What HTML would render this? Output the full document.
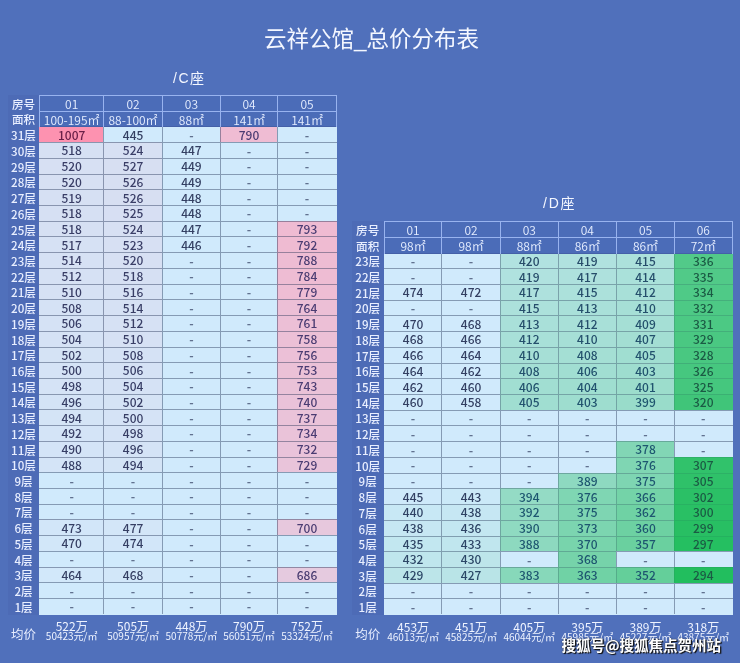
<!DOCTYPE html>
<html><head><meta charset="utf-8"><style>
*{margin:0;padding:0;box-sizing:border-box}
html,body{width:740px;height:663px;overflow:hidden;background:#5070bb}
body{position:relative;font-family:"Noto Sans CJK SC",sans-serif}
.r{position:absolute}
.t{position:absolute;display:flex;align-items:center;justify-content:center;white-space:nowrap;line-height:1}
.num{font-size:12px;font-weight:500}
.dash{font-size:12px;font-weight:700;opacity:0.7}
.hd{font-size:12px;color:#e6eeff;font-weight:350;padding-top:1px}
.lab{font-size:11.6px;color:#e8eeff;padding-top:2.4px;font-weight:500}
.avg{font-size:12.5px;font-weight:400}
.av1{font-size:12px;color:#eef3ff;align-items:flex-end}
.av2{font-size:10px;color:#eef3ff;align-items:flex-start}
.title{position:absolute;left:0;width:740px;text-align:center;color:#f4f7ff;font-family:"Liberation Sans","Noto Sans CJK SC",sans-serif}
.wm{position:absolute;font-weight:bold;color:#fff;font-size:14.5px;text-shadow:1.2px 1.2px 0.8px #111,0 0 1.5px #333}
</style></head><body>
<div id="w" style="position:absolute;left:0;top:0;width:740px;height:663px;background:#5070bb;filter:blur(0.35px)">
<div class="title" style="top:20.5px;font-size:22.5px;left:264px;width:auto">云祥公馆_总价分布表</div>
<div class="title" style="top:66.8px;font-size:14px;left:173px;width:auto;letter-spacing:1.5px">/C座</div>
<div class="title" style="top:192px;font-size:14px;left:543px;width:auto;letter-spacing:1.8px">/D座</div>
<div class="r" style="left:8.00px;top:95.00px;width:31.00px;height:520.00px;background:#4d6bb6;"></div><div class="r" style="left:39.00px;top:95.00px;width:298.00px;height:32.00px;background:#4b6cb8;"></div><div class="r" style="left:39.00px;top:127.00px;width:64.00px;height:15.00px;background:#fd92b0;"></div><div class="t num" style="left:39.65px;top:126.84px;width:64.10px;height:15.72px;color:#6a2048">1007</div><div class="r" style="left:103.00px;top:127.00px;width:59.00px;height:15.00px;background:#d0eafc;"></div><div class="t num" style="left:103.75px;top:126.84px;width:58.65px;height:15.72px;color:#333f62">445</div><div class="r" style="left:162.00px;top:127.00px;width:58.00px;height:15.00px;background:#d0eafc;"></div><div class="t dash" style="left:162.40px;top:126.94px;width:58.00px;height:15.72px;color:#333f62">-</div><div class="r" style="left:220.00px;top:127.00px;width:57.00px;height:15.00px;background:#efbcd3;"></div><div class="t num" style="left:220.40px;top:126.84px;width:57.25px;height:15.72px;color:#4a3c72">790</div><div class="r" style="left:277.00px;top:127.00px;width:60.00px;height:15.00px;background:#d0eafc;"></div><div class="t dash" style="left:277.65px;top:126.94px;width:58.75px;height:15.72px;color:#333f62">-</div><div class="t lab" style="left:3.50px;top:126.94px;width:40.00px;height:15.72px;">31层</div><div class="r" style="left:39.00px;top:142.00px;width:64.00px;height:16.00px;background:#d6e0f3;"></div><div class="t num" style="left:39.65px;top:142.56px;width:64.10px;height:15.72px;color:#393e66">518</div><div class="r" style="left:103.00px;top:142.00px;width:59.00px;height:16.00px;background:#d7e0f3;"></div><div class="t num" style="left:103.75px;top:142.56px;width:58.65px;height:15.72px;color:#3a3e67">524</div><div class="r" style="left:162.00px;top:142.00px;width:58.00px;height:16.00px;background:#d0eafc;"></div><div class="t num" style="left:162.40px;top:142.56px;width:58.00px;height:15.72px;color:#333f62">447</div><div class="r" style="left:220.00px;top:142.00px;width:57.00px;height:16.00px;background:#d0eafc;"></div><div class="t dash" style="left:220.40px;top:142.66px;width:57.25px;height:15.72px;color:#333f62">-</div><div class="r" style="left:277.00px;top:142.00px;width:60.00px;height:16.00px;background:#d0eafc;"></div><div class="t dash" style="left:277.65px;top:142.66px;width:58.75px;height:15.72px;color:#333f62">-</div><div class="t lab" style="left:3.50px;top:142.66px;width:40.00px;height:15.72px;">30层</div><div class="r" style="left:39.00px;top:158.00px;width:64.00px;height:16.00px;background:#d7e0f3;"></div><div class="t num" style="left:39.65px;top:158.28px;width:64.10px;height:15.72px;color:#3a3e67">520</div><div class="r" style="left:103.00px;top:158.00px;width:59.00px;height:16.00px;background:#d7dff2;"></div><div class="t num" style="left:103.75px;top:158.28px;width:58.65px;height:15.72px;color:#3a3e67">527</div><div class="r" style="left:162.00px;top:158.00px;width:58.00px;height:16.00px;background:#d0eafc;"></div><div class="t num" style="left:162.40px;top:158.28px;width:58.00px;height:15.72px;color:#333f62">449</div><div class="r" style="left:220.00px;top:158.00px;width:57.00px;height:16.00px;background:#d0eafc;"></div><div class="t dash" style="left:220.40px;top:158.38px;width:57.25px;height:15.72px;color:#333f62">-</div><div class="r" style="left:277.00px;top:158.00px;width:60.00px;height:16.00px;background:#d0eafc;"></div><div class="t dash" style="left:277.65px;top:158.38px;width:58.75px;height:15.72px;color:#333f62">-</div><div class="t lab" style="left:3.50px;top:158.38px;width:40.00px;height:15.72px;">29层</div><div class="r" style="left:39.00px;top:174.00px;width:64.00px;height:15.00px;background:#d7e0f3;"></div><div class="t num" style="left:39.65px;top:174.00px;width:64.10px;height:15.72px;color:#3a3e67">520</div><div class="r" style="left:103.00px;top:174.00px;width:59.00px;height:15.00px;background:#d7dff2;"></div><div class="t num" style="left:103.75px;top:174.00px;width:58.65px;height:15.72px;color:#3a3e67">526</div><div class="r" style="left:162.00px;top:174.00px;width:58.00px;height:15.00px;background:#d0eafc;"></div><div class="t num" style="left:162.40px;top:174.00px;width:58.00px;height:15.72px;color:#333f62">449</div><div class="r" style="left:220.00px;top:174.00px;width:57.00px;height:15.00px;background:#d0eafc;"></div><div class="t dash" style="left:220.40px;top:174.10px;width:57.25px;height:15.72px;color:#333f62">-</div><div class="r" style="left:277.00px;top:174.00px;width:60.00px;height:15.00px;background:#d0eafc;"></div><div class="t dash" style="left:277.65px;top:174.10px;width:58.75px;height:15.72px;color:#333f62">-</div><div class="t lab" style="left:3.50px;top:174.10px;width:40.00px;height:15.72px;">28层</div><div class="r" style="left:39.00px;top:189.00px;width:64.00px;height:16.00px;background:#d6e0f3;"></div><div class="t num" style="left:39.65px;top:189.72px;width:64.10px;height:15.72px;color:#3a3e67">519</div><div class="r" style="left:103.00px;top:189.00px;width:59.00px;height:16.00px;background:#d7dff2;"></div><div class="t num" style="left:103.75px;top:189.72px;width:58.65px;height:15.72px;color:#3a3e67">526</div><div class="r" style="left:162.00px;top:189.00px;width:58.00px;height:16.00px;background:#d0eafc;"></div><div class="t num" style="left:162.40px;top:189.72px;width:58.00px;height:15.72px;color:#333f62">448</div><div class="r" style="left:220.00px;top:189.00px;width:57.00px;height:16.00px;background:#d0eafc;"></div><div class="t dash" style="left:220.40px;top:189.82px;width:57.25px;height:15.72px;color:#333f62">-</div><div class="r" style="left:277.00px;top:189.00px;width:60.00px;height:16.00px;background:#d0eafc;"></div><div class="t dash" style="left:277.65px;top:189.82px;width:58.75px;height:15.72px;color:#333f62">-</div><div class="t lab" style="left:3.50px;top:189.82px;width:40.00px;height:15.72px;">27层</div><div class="r" style="left:39.00px;top:205.00px;width:64.00px;height:16.00px;background:#d6e0f3;"></div><div class="t num" style="left:39.65px;top:205.44px;width:64.10px;height:15.72px;color:#393e66">518</div><div class="r" style="left:103.00px;top:205.00px;width:59.00px;height:16.00px;background:#d7dff3;"></div><div class="t num" style="left:103.75px;top:205.44px;width:58.65px;height:15.72px;color:#3a3e67">525</div><div class="r" style="left:162.00px;top:205.00px;width:58.00px;height:16.00px;background:#d0eafc;"></div><div class="t num" style="left:162.40px;top:205.44px;width:58.00px;height:15.72px;color:#333f62">448</div><div class="r" style="left:220.00px;top:205.00px;width:57.00px;height:16.00px;background:#d0eafc;"></div><div class="t dash" style="left:220.40px;top:205.54px;width:57.25px;height:15.72px;color:#333f62">-</div><div class="r" style="left:277.00px;top:205.00px;width:60.00px;height:16.00px;background:#d0eafc;"></div><div class="t dash" style="left:277.65px;top:205.54px;width:58.75px;height:15.72px;color:#333f62">-</div><div class="t lab" style="left:3.50px;top:205.54px;width:40.00px;height:15.72px;">26层</div><div class="r" style="left:39.00px;top:221.00px;width:64.00px;height:15.00px;background:#d6e0f3;"></div><div class="t num" style="left:39.65px;top:221.16px;width:64.10px;height:15.72px;color:#393e66">518</div><div class="r" style="left:103.00px;top:221.00px;width:59.00px;height:15.00px;background:#d7e0f3;"></div><div class="t num" style="left:103.75px;top:221.16px;width:58.65px;height:15.72px;color:#3a3e67">524</div><div class="r" style="left:162.00px;top:221.00px;width:58.00px;height:15.00px;background:#d0eafc;"></div><div class="t num" style="left:162.40px;top:221.16px;width:58.00px;height:15.72px;color:#333f62">447</div><div class="r" style="left:220.00px;top:221.00px;width:57.00px;height:15.00px;background:#d0eafc;"></div><div class="t dash" style="left:220.40px;top:221.26px;width:57.25px;height:15.72px;color:#333f62">-</div><div class="r" style="left:277.00px;top:221.00px;width:60.00px;height:15.00px;background:#efbbd2;"></div><div class="t num" style="left:277.65px;top:221.16px;width:58.75px;height:15.72px;color:#4a3c72">793</div><div class="t lab" style="left:3.50px;top:221.26px;width:40.00px;height:15.72px;">25层</div><div class="r" style="left:39.00px;top:236.00px;width:64.00px;height:16.00px;background:#d6e1f4;"></div><div class="t num" style="left:39.65px;top:236.88px;width:64.10px;height:15.72px;color:#393e66">517</div><div class="r" style="left:103.00px;top:236.00px;width:59.00px;height:16.00px;background:#d7e0f3;"></div><div class="t num" style="left:103.75px;top:236.88px;width:58.65px;height:15.72px;color:#3a3e67">523</div><div class="r" style="left:162.00px;top:236.00px;width:58.00px;height:16.00px;background:#d0eafc;"></div><div class="t num" style="left:162.40px;top:236.88px;width:58.00px;height:15.72px;color:#333f62">446</div><div class="r" style="left:220.00px;top:236.00px;width:57.00px;height:16.00px;background:#d0eafc;"></div><div class="t dash" style="left:220.40px;top:236.98px;width:57.25px;height:15.72px;color:#333f62">-</div><div class="r" style="left:277.00px;top:236.00px;width:60.00px;height:16.00px;background:#efbbd2;"></div><div class="t num" style="left:277.65px;top:236.88px;width:58.75px;height:15.72px;color:#4a3c72">792</div><div class="t lab" style="left:3.50px;top:236.98px;width:40.00px;height:15.72px;">24层</div><div class="r" style="left:39.00px;top:252.00px;width:64.00px;height:16.00px;background:#d6e1f4;"></div><div class="t num" style="left:39.65px;top:252.60px;width:64.10px;height:15.72px;color:#393e66">514</div><div class="r" style="left:103.00px;top:252.00px;width:59.00px;height:16.00px;background:#d7e0f3;"></div><div class="t num" style="left:103.75px;top:252.60px;width:58.65px;height:15.72px;color:#3a3e67">520</div><div class="r" style="left:162.00px;top:252.00px;width:58.00px;height:16.00px;background:#d0eafc;"></div><div class="t dash" style="left:162.40px;top:252.70px;width:58.00px;height:15.72px;color:#333f62">-</div><div class="r" style="left:220.00px;top:252.00px;width:57.00px;height:16.00px;background:#d0eafc;"></div><div class="t dash" style="left:220.40px;top:252.70px;width:57.25px;height:15.72px;color:#333f62">-</div><div class="r" style="left:277.00px;top:252.00px;width:60.00px;height:16.00px;background:#eebcd3;"></div><div class="t num" style="left:277.65px;top:252.60px;width:58.75px;height:15.72px;color:#4a3c72">788</div><div class="t lab" style="left:3.50px;top:252.70px;width:40.00px;height:15.72px;">23层</div><div class="r" style="left:39.00px;top:268.00px;width:64.00px;height:16.00px;background:#d6e1f4;"></div><div class="t num" style="left:39.65px;top:268.32px;width:64.10px;height:15.72px;color:#393e66">512</div><div class="r" style="left:103.00px;top:268.00px;width:59.00px;height:16.00px;background:#d6e0f3;"></div><div class="t num" style="left:103.75px;top:268.32px;width:58.65px;height:15.72px;color:#393e66">518</div><div class="r" style="left:162.00px;top:268.00px;width:58.00px;height:16.00px;background:#d0eafc;"></div><div class="t dash" style="left:162.40px;top:268.42px;width:58.00px;height:15.72px;color:#333f62">-</div><div class="r" style="left:220.00px;top:268.00px;width:57.00px;height:16.00px;background:#d0eafc;"></div><div class="t dash" style="left:220.40px;top:268.42px;width:57.25px;height:15.72px;color:#333f62">-</div><div class="r" style="left:277.00px;top:268.00px;width:60.00px;height:16.00px;background:#eebcd3;"></div><div class="t num" style="left:277.65px;top:268.32px;width:58.75px;height:15.72px;color:#4a3c72">784</div><div class="t lab" style="left:3.50px;top:268.42px;width:40.00px;height:15.72px;">22层</div><div class="r" style="left:39.00px;top:284.00px;width:64.00px;height:15.00px;background:#d6e1f4;"></div><div class="t num" style="left:39.65px;top:284.04px;width:64.10px;height:15.72px;color:#393e66">510</div><div class="r" style="left:103.00px;top:284.00px;width:59.00px;height:15.00px;background:#d6e1f4;"></div><div class="t num" style="left:103.75px;top:284.04px;width:58.65px;height:15.72px;color:#393e66">516</div><div class="r" style="left:162.00px;top:284.00px;width:58.00px;height:15.00px;background:#d0eafc;"></div><div class="t dash" style="left:162.40px;top:284.14px;width:58.00px;height:15.72px;color:#333f62">-</div><div class="r" style="left:220.00px;top:284.00px;width:57.00px;height:15.00px;background:#d0eafc;"></div><div class="t dash" style="left:220.40px;top:284.14px;width:57.25px;height:15.72px;color:#333f62">-</div><div class="r" style="left:277.00px;top:284.00px;width:60.00px;height:15.00px;background:#eebdd4;"></div><div class="t num" style="left:277.65px;top:284.04px;width:58.75px;height:15.72px;color:#4a3c72">779</div><div class="t lab" style="left:3.50px;top:284.14px;width:40.00px;height:15.72px;">21层</div><div class="r" style="left:39.00px;top:299.00px;width:64.00px;height:16.00px;background:#d5e2f5;"></div><div class="t num" style="left:39.65px;top:299.76px;width:64.10px;height:15.72px;color:#393e66">508</div><div class="r" style="left:103.00px;top:299.00px;width:59.00px;height:16.00px;background:#d6e1f4;"></div><div class="t num" style="left:103.75px;top:299.76px;width:58.65px;height:15.72px;color:#393e66">514</div><div class="r" style="left:162.00px;top:299.00px;width:58.00px;height:16.00px;background:#d0eafc;"></div><div class="t dash" style="left:162.40px;top:299.86px;width:58.00px;height:15.72px;color:#333f62">-</div><div class="r" style="left:220.00px;top:299.00px;width:57.00px;height:16.00px;background:#d0eafc;"></div><div class="t dash" style="left:220.40px;top:299.86px;width:57.25px;height:15.72px;color:#333f62">-</div><div class="r" style="left:277.00px;top:299.00px;width:60.00px;height:16.00px;background:#ecbfd6;"></div><div class="t num" style="left:277.65px;top:299.76px;width:58.75px;height:15.72px;color:#4a3c72">764</div><div class="t lab" style="left:3.50px;top:299.86px;width:40.00px;height:15.72px;">20层</div><div class="r" style="left:39.00px;top:315.00px;width:64.00px;height:16.00px;background:#d5e2f5;"></div><div class="t num" style="left:39.65px;top:315.48px;width:64.10px;height:15.72px;color:#383e66">506</div><div class="r" style="left:103.00px;top:315.00px;width:59.00px;height:16.00px;background:#d6e1f4;"></div><div class="t num" style="left:103.75px;top:315.48px;width:58.65px;height:15.72px;color:#393e66">512</div><div class="r" style="left:162.00px;top:315.00px;width:58.00px;height:16.00px;background:#d0eafc;"></div><div class="t dash" style="left:162.40px;top:315.58px;width:58.00px;height:15.72px;color:#333f62">-</div><div class="r" style="left:220.00px;top:315.00px;width:57.00px;height:16.00px;background:#d0eafc;"></div><div class="t dash" style="left:220.40px;top:315.58px;width:57.25px;height:15.72px;color:#333f62">-</div><div class="r" style="left:277.00px;top:315.00px;width:60.00px;height:16.00px;background:#ecbfd6;"></div><div class="t num" style="left:277.65px;top:315.48px;width:58.75px;height:15.72px;color:#4a3c72">761</div><div class="t lab" style="left:3.50px;top:315.58px;width:40.00px;height:15.72px;">19层</div><div class="r" style="left:39.00px;top:331.00px;width:64.00px;height:16.00px;background:#d5e2f5;"></div><div class="t num" style="left:39.65px;top:331.20px;width:64.10px;height:15.72px;color:#383e66">504</div><div class="r" style="left:103.00px;top:331.00px;width:59.00px;height:16.00px;background:#d6e1f4;"></div><div class="t num" style="left:103.75px;top:331.20px;width:58.65px;height:15.72px;color:#393e66">510</div><div class="r" style="left:162.00px;top:331.00px;width:58.00px;height:16.00px;background:#d0eafc;"></div><div class="t dash" style="left:162.40px;top:331.30px;width:58.00px;height:15.72px;color:#333f62">-</div><div class="r" style="left:220.00px;top:331.00px;width:57.00px;height:16.00px;background:#d0eafc;"></div><div class="t dash" style="left:220.40px;top:331.30px;width:57.25px;height:15.72px;color:#333f62">-</div><div class="r" style="left:277.00px;top:331.00px;width:60.00px;height:16.00px;background:#ecc0d6;"></div><div class="t num" style="left:277.65px;top:331.20px;width:58.75px;height:15.72px;color:#4a3c72">758</div><div class="t lab" style="left:3.50px;top:331.30px;width:40.00px;height:15.72px;">18层</div><div class="r" style="left:39.00px;top:347.00px;width:64.00px;height:15.00px;background:#d5e3f5;"></div><div class="t num" style="left:39.65px;top:346.92px;width:64.10px;height:15.72px;color:#383e65">502</div><div class="r" style="left:103.00px;top:347.00px;width:59.00px;height:15.00px;background:#d5e2f5;"></div><div class="t num" style="left:103.75px;top:346.92px;width:58.65px;height:15.72px;color:#393e66">508</div><div class="r" style="left:162.00px;top:347.00px;width:58.00px;height:15.00px;background:#d0eafc;"></div><div class="t dash" style="left:162.40px;top:347.02px;width:58.00px;height:15.72px;color:#333f62">-</div><div class="r" style="left:220.00px;top:347.00px;width:57.00px;height:15.00px;background:#d0eafc;"></div><div class="t dash" style="left:220.40px;top:347.02px;width:57.25px;height:15.72px;color:#333f62">-</div><div class="r" style="left:277.00px;top:347.00px;width:60.00px;height:15.00px;background:#ecc0d7;"></div><div class="t num" style="left:277.65px;top:346.92px;width:58.75px;height:15.72px;color:#4a3c72">756</div><div class="t lab" style="left:3.50px;top:347.02px;width:40.00px;height:15.72px;">17层</div><div class="r" style="left:39.00px;top:362.00px;width:64.00px;height:16.00px;background:#d5e3f6;"></div><div class="t num" style="left:39.65px;top:362.64px;width:64.10px;height:15.72px;color:#383e65">500</div><div class="r" style="left:103.00px;top:362.00px;width:59.00px;height:16.00px;background:#d5e2f5;"></div><div class="t num" style="left:103.75px;top:362.64px;width:58.65px;height:15.72px;color:#383e66">506</div><div class="r" style="left:162.00px;top:362.00px;width:58.00px;height:16.00px;background:#d0eafc;"></div><div class="t dash" style="left:162.40px;top:362.74px;width:58.00px;height:15.72px;color:#333f62">-</div><div class="r" style="left:220.00px;top:362.00px;width:57.00px;height:16.00px;background:#d0eafc;"></div><div class="t dash" style="left:220.40px;top:362.74px;width:57.25px;height:15.72px;color:#333f62">-</div><div class="r" style="left:277.00px;top:362.00px;width:60.00px;height:16.00px;background:#ebc1d7;"></div><div class="t num" style="left:277.65px;top:362.64px;width:58.75px;height:15.72px;color:#4a3c72">753</div><div class="t lab" style="left:3.50px;top:362.74px;width:40.00px;height:15.72px;">16层</div><div class="r" style="left:39.00px;top:378.00px;width:64.00px;height:16.00px;background:#d5e3f6;"></div><div class="t num" style="left:39.65px;top:378.36px;width:64.10px;height:15.72px;color:#383e65">498</div><div class="r" style="left:103.00px;top:378.00px;width:59.00px;height:16.00px;background:#d5e2f5;"></div><div class="t num" style="left:103.75px;top:378.36px;width:58.65px;height:15.72px;color:#383e66">504</div><div class="r" style="left:162.00px;top:378.00px;width:58.00px;height:16.00px;background:#d0eafc;"></div><div class="t dash" style="left:162.40px;top:378.46px;width:58.00px;height:15.72px;color:#333f62">-</div><div class="r" style="left:220.00px;top:378.00px;width:57.00px;height:16.00px;background:#d0eafc;"></div><div class="t dash" style="left:220.40px;top:378.46px;width:57.25px;height:15.72px;color:#333f62">-</div><div class="r" style="left:277.00px;top:378.00px;width:60.00px;height:16.00px;background:#eac2d8;"></div><div class="t num" style="left:277.65px;top:378.36px;width:58.75px;height:15.72px;color:#4a3c72">743</div><div class="t lab" style="left:3.50px;top:378.46px;width:40.00px;height:15.72px;">15层</div><div class="r" style="left:39.00px;top:394.00px;width:64.00px;height:15.00px;background:#d4e3f6;"></div><div class="t num" style="left:39.65px;top:394.08px;width:64.10px;height:15.72px;color:#373e65">496</div><div class="r" style="left:103.00px;top:394.00px;width:59.00px;height:15.00px;background:#d5e3f5;"></div><div class="t num" style="left:103.75px;top:394.08px;width:58.65px;height:15.72px;color:#383e65">502</div><div class="r" style="left:162.00px;top:394.00px;width:58.00px;height:15.00px;background:#d0eafc;"></div><div class="t dash" style="left:162.40px;top:394.18px;width:58.00px;height:15.72px;color:#333f62">-</div><div class="r" style="left:220.00px;top:394.00px;width:57.00px;height:15.00px;background:#d0eafc;"></div><div class="t dash" style="left:220.40px;top:394.18px;width:57.25px;height:15.72px;color:#333f62">-</div><div class="r" style="left:277.00px;top:394.00px;width:60.00px;height:15.00px;background:#eac2d9;"></div><div class="t num" style="left:277.65px;top:394.08px;width:58.75px;height:15.72px;color:#4a3c72">740</div><div class="t lab" style="left:3.50px;top:394.18px;width:40.00px;height:15.72px;">14层</div><div class="r" style="left:39.00px;top:409.00px;width:64.00px;height:16.00px;background:#d4e4f6;"></div><div class="t num" style="left:39.65px;top:409.80px;width:64.10px;height:15.72px;color:#373e65">494</div><div class="r" style="left:103.00px;top:409.00px;width:59.00px;height:16.00px;background:#d5e3f6;"></div><div class="t num" style="left:103.75px;top:409.80px;width:58.65px;height:15.72px;color:#383e65">500</div><div class="r" style="left:162.00px;top:409.00px;width:58.00px;height:16.00px;background:#d0eafc;"></div><div class="t dash" style="left:162.40px;top:409.90px;width:58.00px;height:15.72px;color:#333f62">-</div><div class="r" style="left:220.00px;top:409.00px;width:57.00px;height:16.00px;background:#d0eafc;"></div><div class="t dash" style="left:220.40px;top:409.90px;width:57.25px;height:15.72px;color:#333f62">-</div><div class="r" style="left:277.00px;top:409.00px;width:60.00px;height:16.00px;background:#eac3d9;"></div><div class="t num" style="left:277.65px;top:409.80px;width:58.75px;height:15.72px;color:#4a3c72">737</div><div class="t lab" style="left:3.50px;top:409.90px;width:40.00px;height:15.72px;">13层</div><div class="r" style="left:39.00px;top:425.00px;width:64.00px;height:16.00px;background:#d4e4f7;"></div><div class="t num" style="left:39.65px;top:425.52px;width:64.10px;height:15.72px;color:#373e65">492</div><div class="r" style="left:103.00px;top:425.00px;width:59.00px;height:16.00px;background:#d5e3f6;"></div><div class="t num" style="left:103.75px;top:425.52px;width:58.65px;height:15.72px;color:#383e65">498</div><div class="r" style="left:162.00px;top:425.00px;width:58.00px;height:16.00px;background:#d0eafc;"></div><div class="t dash" style="left:162.40px;top:425.62px;width:58.00px;height:15.72px;color:#333f62">-</div><div class="r" style="left:220.00px;top:425.00px;width:57.00px;height:16.00px;background:#d0eafc;"></div><div class="t dash" style="left:220.40px;top:425.62px;width:57.25px;height:15.72px;color:#333f62">-</div><div class="r" style="left:277.00px;top:425.00px;width:60.00px;height:16.00px;background:#eac3d9;"></div><div class="t num" style="left:277.65px;top:425.52px;width:58.75px;height:15.72px;color:#4a3c72">734</div><div class="t lab" style="left:3.50px;top:425.62px;width:40.00px;height:15.72px;">12层</div><div class="r" style="left:39.00px;top:441.00px;width:64.00px;height:16.00px;background:#d4e4f7;"></div><div class="t num" style="left:39.65px;top:441.24px;width:64.10px;height:15.72px;color:#373e65">490</div><div class="r" style="left:103.00px;top:441.00px;width:59.00px;height:16.00px;background:#d4e3f6;"></div><div class="t num" style="left:103.75px;top:441.24px;width:58.65px;height:15.72px;color:#373e65">496</div><div class="r" style="left:162.00px;top:441.00px;width:58.00px;height:16.00px;background:#d0eafc;"></div><div class="t dash" style="left:162.40px;top:441.34px;width:58.00px;height:15.72px;color:#333f62">-</div><div class="r" style="left:220.00px;top:441.00px;width:57.00px;height:16.00px;background:#d0eafc;"></div><div class="t dash" style="left:220.40px;top:441.34px;width:57.25px;height:15.72px;color:#333f62">-</div><div class="r" style="left:277.00px;top:441.00px;width:60.00px;height:16.00px;background:#e9c3da;"></div><div class="t num" style="left:277.65px;top:441.24px;width:58.75px;height:15.72px;color:#4a3c72">732</div><div class="t lab" style="left:3.50px;top:441.34px;width:40.00px;height:15.72px;">11层</div><div class="r" style="left:39.00px;top:457.00px;width:64.00px;height:15.00px;background:#d4e4f7;"></div><div class="t num" style="left:39.65px;top:456.96px;width:64.10px;height:15.72px;color:#373f65">488</div><div class="r" style="left:103.00px;top:457.00px;width:59.00px;height:15.00px;background:#d4e4f6;"></div><div class="t num" style="left:103.75px;top:456.96px;width:58.65px;height:15.72px;color:#373e65">494</div><div class="r" style="left:162.00px;top:457.00px;width:58.00px;height:15.00px;background:#d0eafc;"></div><div class="t dash" style="left:162.40px;top:457.06px;width:58.00px;height:15.72px;color:#333f62">-</div><div class="r" style="left:220.00px;top:457.00px;width:57.00px;height:15.00px;background:#d0eafc;"></div><div class="t dash" style="left:220.40px;top:457.06px;width:57.25px;height:15.72px;color:#333f62">-</div><div class="r" style="left:277.00px;top:457.00px;width:60.00px;height:15.00px;background:#e9c4da;"></div><div class="t num" style="left:277.65px;top:456.96px;width:58.75px;height:15.72px;color:#4a3c72">729</div><div class="t lab" style="left:3.50px;top:457.06px;width:40.00px;height:15.72px;">10层</div><div class="r" style="left:39.00px;top:472.00px;width:64.00px;height:16.00px;background:#d0eafc;"></div><div class="t dash" style="left:39.65px;top:472.78px;width:64.10px;height:15.72px;color:#333f62">-</div><div class="r" style="left:103.00px;top:472.00px;width:59.00px;height:16.00px;background:#d0eafc;"></div><div class="t dash" style="left:103.75px;top:472.78px;width:58.65px;height:15.72px;color:#333f62">-</div><div class="r" style="left:162.00px;top:472.00px;width:58.00px;height:16.00px;background:#d0eafc;"></div><div class="t dash" style="left:162.40px;top:472.78px;width:58.00px;height:15.72px;color:#333f62">-</div><div class="r" style="left:220.00px;top:472.00px;width:57.00px;height:16.00px;background:#d0eafc;"></div><div class="t dash" style="left:220.40px;top:472.78px;width:57.25px;height:15.72px;color:#333f62">-</div><div class="r" style="left:277.00px;top:472.00px;width:60.00px;height:16.00px;background:#d0eafc;"></div><div class="t dash" style="left:277.65px;top:472.78px;width:58.75px;height:15.72px;color:#333f62">-</div><div class="t lab" style="left:3.50px;top:472.78px;width:40.00px;height:15.72px;">9层</div><div class="r" style="left:39.00px;top:488.00px;width:64.00px;height:16.00px;background:#d0eafc;"></div><div class="t dash" style="left:39.65px;top:488.50px;width:64.10px;height:15.72px;color:#333f62">-</div><div class="r" style="left:103.00px;top:488.00px;width:59.00px;height:16.00px;background:#d0eafc;"></div><div class="t dash" style="left:103.75px;top:488.50px;width:58.65px;height:15.72px;color:#333f62">-</div><div class="r" style="left:162.00px;top:488.00px;width:58.00px;height:16.00px;background:#d0eafc;"></div><div class="t dash" style="left:162.40px;top:488.50px;width:58.00px;height:15.72px;color:#333f62">-</div><div class="r" style="left:220.00px;top:488.00px;width:57.00px;height:16.00px;background:#d0eafc;"></div><div class="t dash" style="left:220.40px;top:488.50px;width:57.25px;height:15.72px;color:#333f62">-</div><div class="r" style="left:277.00px;top:488.00px;width:60.00px;height:16.00px;background:#d0eafc;"></div><div class="t dash" style="left:277.65px;top:488.50px;width:58.75px;height:15.72px;color:#333f62">-</div><div class="t lab" style="left:3.50px;top:488.50px;width:40.00px;height:15.72px;">8层</div><div class="r" style="left:39.00px;top:504.00px;width:64.00px;height:15.00px;background:#d0eafc;"></div><div class="t dash" style="left:39.65px;top:504.22px;width:64.10px;height:15.72px;color:#333f62">-</div><div class="r" style="left:103.00px;top:504.00px;width:59.00px;height:15.00px;background:#d0eafc;"></div><div class="t dash" style="left:103.75px;top:504.22px;width:58.65px;height:15.72px;color:#333f62">-</div><div class="r" style="left:162.00px;top:504.00px;width:58.00px;height:15.00px;background:#d0eafc;"></div><div class="t dash" style="left:162.40px;top:504.22px;width:58.00px;height:15.72px;color:#333f62">-</div><div class="r" style="left:220.00px;top:504.00px;width:57.00px;height:15.00px;background:#d0eafc;"></div><div class="t dash" style="left:220.40px;top:504.22px;width:57.25px;height:15.72px;color:#333f62">-</div><div class="r" style="left:277.00px;top:504.00px;width:60.00px;height:15.00px;background:#d0eafc;"></div><div class="t dash" style="left:277.65px;top:504.22px;width:58.75px;height:15.72px;color:#333f62">-</div><div class="t lab" style="left:3.50px;top:504.22px;width:40.00px;height:15.72px;">7层</div><div class="r" style="left:39.00px;top:519.00px;width:64.00px;height:16.00px;background:#d2e6f9;"></div><div class="t num" style="left:39.65px;top:519.84px;width:64.10px;height:15.72px;color:#353f64">473</div><div class="r" style="left:103.00px;top:519.00px;width:59.00px;height:16.00px;background:#d3e6f8;"></div><div class="t num" style="left:103.75px;top:519.84px;width:58.65px;height:15.72px;color:#363f64">477</div><div class="r" style="left:162.00px;top:519.00px;width:58.00px;height:16.00px;background:#d0eafc;"></div><div class="t dash" style="left:162.40px;top:519.94px;width:58.00px;height:15.72px;color:#333f62">-</div><div class="r" style="left:220.00px;top:519.00px;width:57.00px;height:16.00px;background:#d0eafc;"></div><div class="t dash" style="left:220.40px;top:519.94px;width:57.25px;height:15.72px;color:#333f62">-</div><div class="r" style="left:277.00px;top:519.00px;width:60.00px;height:16.00px;background:#e7c8dd;"></div><div class="t num" style="left:277.65px;top:519.84px;width:58.75px;height:15.72px;color:#4a3c72">700</div><div class="t lab" style="left:3.50px;top:519.94px;width:40.00px;height:15.72px;">6层</div><div class="r" style="left:39.00px;top:535.00px;width:64.00px;height:16.00px;background:#d2e7f9;"></div><div class="t num" style="left:39.65px;top:535.56px;width:64.10px;height:15.72px;color:#353f63">470</div><div class="r" style="left:103.00px;top:535.00px;width:59.00px;height:16.00px;background:#d2e6f9;"></div><div class="t num" style="left:103.75px;top:535.56px;width:58.65px;height:15.72px;color:#353f64">474</div><div class="r" style="left:162.00px;top:535.00px;width:58.00px;height:16.00px;background:#d0eafc;"></div><div class="t dash" style="left:162.40px;top:535.66px;width:58.00px;height:15.72px;color:#333f62">-</div><div class="r" style="left:220.00px;top:535.00px;width:57.00px;height:16.00px;background:#d0eafc;"></div><div class="t dash" style="left:220.40px;top:535.66px;width:57.25px;height:15.72px;color:#333f62">-</div><div class="r" style="left:277.00px;top:535.00px;width:60.00px;height:16.00px;background:#d0eafc;"></div><div class="t dash" style="left:277.65px;top:535.66px;width:58.75px;height:15.72px;color:#333f62">-</div><div class="t lab" style="left:3.50px;top:535.66px;width:40.00px;height:15.72px;">5层</div><div class="r" style="left:39.00px;top:551.00px;width:64.00px;height:16.00px;background:#d0eafc;"></div><div class="t dash" style="left:39.65px;top:551.38px;width:64.10px;height:15.72px;color:#333f62">-</div><div class="r" style="left:103.00px;top:551.00px;width:59.00px;height:16.00px;background:#d0eafc;"></div><div class="t dash" style="left:103.75px;top:551.38px;width:58.65px;height:15.72px;color:#333f62">-</div><div class="r" style="left:162.00px;top:551.00px;width:58.00px;height:16.00px;background:#d0eafc;"></div><div class="t dash" style="left:162.40px;top:551.38px;width:58.00px;height:15.72px;color:#333f62">-</div><div class="r" style="left:220.00px;top:551.00px;width:57.00px;height:16.00px;background:#d0eafc;"></div><div class="t dash" style="left:220.40px;top:551.38px;width:57.25px;height:15.72px;color:#333f62">-</div><div class="r" style="left:277.00px;top:551.00px;width:60.00px;height:16.00px;background:#d0eafc;"></div><div class="t dash" style="left:277.65px;top:551.38px;width:58.75px;height:15.72px;color:#333f62">-</div><div class="t lab" style="left:3.50px;top:551.38px;width:40.00px;height:15.72px;">4层</div><div class="r" style="left:39.00px;top:567.00px;width:64.00px;height:15.00px;background:#d2e8fa;"></div><div class="t num" style="left:39.65px;top:567.00px;width:64.10px;height:15.72px;color:#353f63">464</div><div class="r" style="left:103.00px;top:567.00px;width:59.00px;height:15.00px;background:#d2e7f9;"></div><div class="t num" style="left:103.75px;top:567.00px;width:58.65px;height:15.72px;color:#353f63">468</div><div class="r" style="left:162.00px;top:567.00px;width:58.00px;height:15.00px;background:#d0eafc;"></div><div class="t dash" style="left:162.40px;top:567.10px;width:58.00px;height:15.72px;color:#333f62">-</div><div class="r" style="left:220.00px;top:567.00px;width:57.00px;height:15.00px;background:#d0eafc;"></div><div class="t dash" style="left:220.40px;top:567.10px;width:57.25px;height:15.72px;color:#333f62">-</div><div class="r" style="left:277.00px;top:567.00px;width:60.00px;height:15.00px;background:#e5cadf;"></div><div class="t num" style="left:277.65px;top:567.00px;width:58.75px;height:15.72px;color:#493c71">686</div><div class="t lab" style="left:3.50px;top:567.10px;width:40.00px;height:15.72px;">3层</div><div class="r" style="left:39.00px;top:582.00px;width:64.00px;height:16.00px;background:#d0eafc;"></div><div class="t dash" style="left:39.65px;top:582.82px;width:64.10px;height:15.72px;color:#333f62">-</div><div class="r" style="left:103.00px;top:582.00px;width:59.00px;height:16.00px;background:#d0eafc;"></div><div class="t dash" style="left:103.75px;top:582.82px;width:58.65px;height:15.72px;color:#333f62">-</div><div class="r" style="left:162.00px;top:582.00px;width:58.00px;height:16.00px;background:#d0eafc;"></div><div class="t dash" style="left:162.40px;top:582.82px;width:58.00px;height:15.72px;color:#333f62">-</div><div class="r" style="left:220.00px;top:582.00px;width:57.00px;height:16.00px;background:#d0eafc;"></div><div class="t dash" style="left:220.40px;top:582.82px;width:57.25px;height:15.72px;color:#333f62">-</div><div class="r" style="left:277.00px;top:582.00px;width:60.00px;height:16.00px;background:#d0eafc;"></div><div class="t dash" style="left:277.65px;top:582.82px;width:58.75px;height:15.72px;color:#333f62">-</div><div class="t lab" style="left:3.50px;top:582.82px;width:40.00px;height:15.72px;">2层</div><div class="r" style="left:39.00px;top:598.00px;width:64.00px;height:17.00px;background:#d0eafc;"></div><div class="t dash" style="left:39.65px;top:598.54px;width:64.10px;height:15.72px;color:#333f62">-</div><div class="r" style="left:103.00px;top:598.00px;width:59.00px;height:17.00px;background:#d0eafc;"></div><div class="t dash" style="left:103.75px;top:598.54px;width:58.65px;height:15.72px;color:#333f62">-</div><div class="r" style="left:162.00px;top:598.00px;width:58.00px;height:17.00px;background:#d0eafc;"></div><div class="t dash" style="left:162.40px;top:598.54px;width:58.00px;height:15.72px;color:#333f62">-</div><div class="r" style="left:220.00px;top:598.00px;width:57.00px;height:17.00px;background:#d0eafc;"></div><div class="t dash" style="left:220.40px;top:598.54px;width:57.25px;height:15.72px;color:#333f62">-</div><div class="r" style="left:277.00px;top:598.00px;width:60.00px;height:17.00px;background:#d0eafc;"></div><div class="t dash" style="left:277.65px;top:598.54px;width:58.75px;height:15.72px;color:#333f62">-</div><div class="t lab" style="left:3.50px;top:598.54px;width:40.00px;height:15.72px;">1层</div><div class="t lab" style="left:3.50px;top:95.50px;width:40.00px;height:15.72px;">房号</div><div class="t lab" style="left:3.50px;top:111.22px;width:40.00px;height:15.72px;">面积</div><div class="t hd" style="left:39.65px;top:95.50px;width:64.10px;height:15.72px;">01</div><div class="t hd" style="left:39.65px;top:111.22px;width:64.10px;height:15.72px;">100-195㎡</div><div class="t hd" style="left:103.75px;top:95.50px;width:58.65px;height:15.72px;">02</div><div class="t hd" style="left:103.75px;top:111.22px;width:58.65px;height:15.72px;">88-100㎡</div><div class="t hd" style="left:162.40px;top:95.50px;width:58.00px;height:15.72px;">03</div><div class="t hd" style="left:162.40px;top:111.22px;width:58.00px;height:15.72px;">88㎡</div><div class="t hd" style="left:220.40px;top:95.50px;width:57.25px;height:15.72px;">04</div><div class="t hd" style="left:220.40px;top:111.22px;width:57.25px;height:15.72px;">141㎡</div><div class="t hd" style="left:277.65px;top:95.50px;width:58.75px;height:15.72px;">05</div><div class="t hd" style="left:277.65px;top:111.22px;width:58.75px;height:15.72px;">141㎡</div><div class="r" style="left:103.00px;top:127.00px;width:1.00px;height:15.00px;background:#859bb4;"></div><div class="r" style="left:162.00px;top:127.00px;width:1.00px;height:15.00px;background:#859bb4;"></div><div class="r" style="left:220.00px;top:127.00px;width:1.00px;height:15.00px;background:#97809c;"></div><div class="r" style="left:277.00px;top:127.00px;width:1.00px;height:15.00px;background:#859bb4;"></div><div class="r" style="left:39.00px;top:142.00px;width:64.00px;height:1.00px;background:#8995af;"></div><div class="r" style="left:103.00px;top:142.00px;width:59.00px;height:1.00px;background:#8995af;"></div><div class="r" style="left:103.00px;top:142.00px;width:1.00px;height:16.00px;background:#8995af;"></div><div class="r" style="left:162.00px;top:142.00px;width:58.00px;height:1.00px;background:#859bb4;"></div><div class="r" style="left:162.00px;top:142.00px;width:1.00px;height:16.00px;background:#859bb4;"></div><div class="r" style="left:220.00px;top:142.00px;width:57.00px;height:1.00px;background:#859bb4;"></div><div class="r" style="left:220.00px;top:142.00px;width:1.00px;height:16.00px;background:#859bb4;"></div><div class="r" style="left:277.00px;top:142.00px;width:60.00px;height:1.00px;background:#859bb4;"></div><div class="r" style="left:277.00px;top:142.00px;width:1.00px;height:16.00px;background:#859bb4;"></div><div class="r" style="left:39.00px;top:158.00px;width:64.00px;height:1.00px;background:#8995af;"></div><div class="r" style="left:103.00px;top:158.00px;width:59.00px;height:1.00px;background:#8994ae;"></div><div class="r" style="left:103.00px;top:158.00px;width:1.00px;height:16.00px;background:#8994ae;"></div><div class="r" style="left:162.00px;top:158.00px;width:58.00px;height:1.00px;background:#859bb4;"></div><div class="r" style="left:162.00px;top:158.00px;width:1.00px;height:16.00px;background:#859bb4;"></div><div class="r" style="left:220.00px;top:158.00px;width:57.00px;height:1.00px;background:#859bb4;"></div><div class="r" style="left:220.00px;top:158.00px;width:1.00px;height:16.00px;background:#859bb4;"></div><div class="r" style="left:277.00px;top:158.00px;width:60.00px;height:1.00px;background:#859bb4;"></div><div class="r" style="left:277.00px;top:158.00px;width:1.00px;height:16.00px;background:#859bb4;"></div><div class="r" style="left:39.00px;top:174.00px;width:64.00px;height:1.00px;background:#8995af;"></div><div class="r" style="left:103.00px;top:174.00px;width:59.00px;height:1.00px;background:#8994ae;"></div><div class="r" style="left:103.00px;top:174.00px;width:1.00px;height:15.00px;background:#8994ae;"></div><div class="r" style="left:162.00px;top:174.00px;width:58.00px;height:1.00px;background:#859bb4;"></div><div class="r" style="left:162.00px;top:174.00px;width:1.00px;height:15.00px;background:#859bb4;"></div><div class="r" style="left:220.00px;top:174.00px;width:57.00px;height:1.00px;background:#859bb4;"></div><div class="r" style="left:220.00px;top:174.00px;width:1.00px;height:15.00px;background:#859bb4;"></div><div class="r" style="left:277.00px;top:174.00px;width:60.00px;height:1.00px;background:#859bb4;"></div><div class="r" style="left:277.00px;top:174.00px;width:1.00px;height:15.00px;background:#859bb4;"></div><div class="r" style="left:39.00px;top:189.00px;width:64.00px;height:1.00px;background:#8995af;"></div><div class="r" style="left:103.00px;top:189.00px;width:59.00px;height:1.00px;background:#8994ae;"></div><div class="r" style="left:103.00px;top:189.00px;width:1.00px;height:16.00px;background:#8994ae;"></div><div class="r" style="left:162.00px;top:189.00px;width:58.00px;height:1.00px;background:#859bb4;"></div><div class="r" style="left:162.00px;top:189.00px;width:1.00px;height:16.00px;background:#859bb4;"></div><div class="r" style="left:220.00px;top:189.00px;width:57.00px;height:1.00px;background:#859bb4;"></div><div class="r" style="left:220.00px;top:189.00px;width:1.00px;height:16.00px;background:#859bb4;"></div><div class="r" style="left:277.00px;top:189.00px;width:60.00px;height:1.00px;background:#859bb4;"></div><div class="r" style="left:277.00px;top:189.00px;width:1.00px;height:16.00px;background:#859bb4;"></div><div class="r" style="left:39.00px;top:205.00px;width:64.00px;height:1.00px;background:#8995af;"></div><div class="r" style="left:103.00px;top:205.00px;width:59.00px;height:1.00px;background:#8994af;"></div><div class="r" style="left:103.00px;top:205.00px;width:1.00px;height:16.00px;background:#8994af;"></div><div class="r" style="left:162.00px;top:205.00px;width:58.00px;height:1.00px;background:#859bb4;"></div><div class="r" style="left:162.00px;top:205.00px;width:1.00px;height:16.00px;background:#859bb4;"></div><div class="r" style="left:220.00px;top:205.00px;width:57.00px;height:1.00px;background:#859bb4;"></div><div class="r" style="left:220.00px;top:205.00px;width:1.00px;height:16.00px;background:#859bb4;"></div><div class="r" style="left:277.00px;top:205.00px;width:60.00px;height:1.00px;background:#859bb4;"></div><div class="r" style="left:277.00px;top:205.00px;width:1.00px;height:16.00px;background:#859bb4;"></div><div class="r" style="left:39.00px;top:221.00px;width:64.00px;height:1.00px;background:#8995af;"></div><div class="r" style="left:103.00px;top:221.00px;width:59.00px;height:1.00px;background:#8995af;"></div><div class="r" style="left:103.00px;top:221.00px;width:1.00px;height:15.00px;background:#8995af;"></div><div class="r" style="left:162.00px;top:221.00px;width:58.00px;height:1.00px;background:#859bb4;"></div><div class="r" style="left:162.00px;top:221.00px;width:1.00px;height:15.00px;background:#859bb4;"></div><div class="r" style="left:220.00px;top:221.00px;width:57.00px;height:1.00px;background:#859bb4;"></div><div class="r" style="left:220.00px;top:221.00px;width:1.00px;height:15.00px;background:#859bb4;"></div><div class="r" style="left:277.00px;top:221.00px;width:60.00px;height:1.00px;background:#977f9b;"></div><div class="r" style="left:277.00px;top:221.00px;width:1.00px;height:15.00px;background:#977f9b;"></div><div class="r" style="left:39.00px;top:236.00px;width:64.00px;height:1.00px;background:#8995af;"></div><div class="r" style="left:103.00px;top:236.00px;width:59.00px;height:1.00px;background:#8995af;"></div><div class="r" style="left:103.00px;top:236.00px;width:1.00px;height:16.00px;background:#8995af;"></div><div class="r" style="left:162.00px;top:236.00px;width:58.00px;height:1.00px;background:#859bb4;"></div><div class="r" style="left:162.00px;top:236.00px;width:1.00px;height:16.00px;background:#859bb4;"></div><div class="r" style="left:220.00px;top:236.00px;width:57.00px;height:1.00px;background:#859bb4;"></div><div class="r" style="left:220.00px;top:236.00px;width:1.00px;height:16.00px;background:#859bb4;"></div><div class="r" style="left:277.00px;top:236.00px;width:60.00px;height:1.00px;background:#977f9b;"></div><div class="r" style="left:277.00px;top:236.00px;width:1.00px;height:16.00px;background:#977f9b;"></div><div class="r" style="left:39.00px;top:252.00px;width:64.00px;height:1.00px;background:#8995af;"></div><div class="r" style="left:103.00px;top:252.00px;width:59.00px;height:1.00px;background:#8995af;"></div><div class="r" style="left:103.00px;top:252.00px;width:1.00px;height:16.00px;background:#8995af;"></div><div class="r" style="left:162.00px;top:252.00px;width:58.00px;height:1.00px;background:#859bb4;"></div><div class="r" style="left:162.00px;top:252.00px;width:1.00px;height:16.00px;background:#859bb4;"></div><div class="r" style="left:220.00px;top:252.00px;width:57.00px;height:1.00px;background:#859bb4;"></div><div class="r" style="left:220.00px;top:252.00px;width:1.00px;height:16.00px;background:#859bb4;"></div><div class="r" style="left:277.00px;top:252.00px;width:60.00px;height:1.00px;background:#97809c;"></div><div class="r" style="left:277.00px;top:252.00px;width:1.00px;height:16.00px;background:#97809c;"></div><div class="r" style="left:39.00px;top:268.00px;width:64.00px;height:1.00px;background:#8995af;"></div><div class="r" style="left:103.00px;top:268.00px;width:59.00px;height:1.00px;background:#8995af;"></div><div class="r" style="left:103.00px;top:268.00px;width:1.00px;height:16.00px;background:#8995af;"></div><div class="r" style="left:162.00px;top:268.00px;width:58.00px;height:1.00px;background:#859bb4;"></div><div class="r" style="left:162.00px;top:268.00px;width:1.00px;height:16.00px;background:#859bb4;"></div><div class="r" style="left:220.00px;top:268.00px;width:57.00px;height:1.00px;background:#859bb4;"></div><div class="r" style="left:220.00px;top:268.00px;width:1.00px;height:16.00px;background:#859bb4;"></div><div class="r" style="left:277.00px;top:268.00px;width:60.00px;height:1.00px;background:#97809c;"></div><div class="r" style="left:277.00px;top:268.00px;width:1.00px;height:16.00px;background:#97809c;"></div><div class="r" style="left:39.00px;top:284.00px;width:64.00px;height:1.00px;background:#8995af;"></div><div class="r" style="left:103.00px;top:284.00px;width:59.00px;height:1.00px;background:#8995af;"></div><div class="r" style="left:103.00px;top:284.00px;width:1.00px;height:15.00px;background:#8995af;"></div><div class="r" style="left:162.00px;top:284.00px;width:58.00px;height:1.00px;background:#859bb4;"></div><div class="r" style="left:162.00px;top:284.00px;width:1.00px;height:15.00px;background:#859bb4;"></div><div class="r" style="left:220.00px;top:284.00px;width:57.00px;height:1.00px;background:#859bb4;"></div><div class="r" style="left:220.00px;top:284.00px;width:1.00px;height:15.00px;background:#859bb4;"></div><div class="r" style="left:277.00px;top:284.00px;width:60.00px;height:1.00px;background:#97819d;"></div><div class="r" style="left:277.00px;top:284.00px;width:1.00px;height:15.00px;background:#97819d;"></div><div class="r" style="left:39.00px;top:299.00px;width:64.00px;height:1.00px;background:#8896b0;"></div><div class="r" style="left:103.00px;top:299.00px;width:59.00px;height:1.00px;background:#8995af;"></div><div class="r" style="left:103.00px;top:299.00px;width:1.00px;height:16.00px;background:#8995af;"></div><div class="r" style="left:162.00px;top:299.00px;width:58.00px;height:1.00px;background:#859bb4;"></div><div class="r" style="left:162.00px;top:299.00px;width:1.00px;height:16.00px;background:#859bb4;"></div><div class="r" style="left:220.00px;top:299.00px;width:57.00px;height:1.00px;background:#859bb4;"></div><div class="r" style="left:220.00px;top:299.00px;width:1.00px;height:16.00px;background:#859bb4;"></div><div class="r" style="left:277.00px;top:299.00px;width:60.00px;height:1.00px;background:#95829e;"></div><div class="r" style="left:277.00px;top:299.00px;width:1.00px;height:16.00px;background:#95829e;"></div><div class="r" style="left:39.00px;top:315.00px;width:64.00px;height:1.00px;background:#8896b0;"></div><div class="r" style="left:103.00px;top:315.00px;width:59.00px;height:1.00px;background:#8995af;"></div><div class="r" style="left:103.00px;top:315.00px;width:1.00px;height:16.00px;background:#8995af;"></div><div class="r" style="left:162.00px;top:315.00px;width:58.00px;height:1.00px;background:#859bb4;"></div><div class="r" style="left:162.00px;top:315.00px;width:1.00px;height:16.00px;background:#859bb4;"></div><div class="r" style="left:220.00px;top:315.00px;width:57.00px;height:1.00px;background:#859bb4;"></div><div class="r" style="left:220.00px;top:315.00px;width:1.00px;height:16.00px;background:#859bb4;"></div><div class="r" style="left:277.00px;top:315.00px;width:60.00px;height:1.00px;background:#95829e;"></div><div class="r" style="left:277.00px;top:315.00px;width:1.00px;height:16.00px;background:#95829e;"></div><div class="r" style="left:39.00px;top:331.00px;width:64.00px;height:1.00px;background:#8896b0;"></div><div class="r" style="left:103.00px;top:331.00px;width:59.00px;height:1.00px;background:#8995af;"></div><div class="r" style="left:103.00px;top:331.00px;width:1.00px;height:16.00px;background:#8995af;"></div><div class="r" style="left:162.00px;top:331.00px;width:58.00px;height:1.00px;background:#859bb4;"></div><div class="r" style="left:162.00px;top:331.00px;width:1.00px;height:16.00px;background:#859bb4;"></div><div class="r" style="left:220.00px;top:331.00px;width:57.00px;height:1.00px;background:#859bb4;"></div><div class="r" style="left:220.00px;top:331.00px;width:1.00px;height:16.00px;background:#859bb4;"></div><div class="r" style="left:277.00px;top:331.00px;width:60.00px;height:1.00px;background:#95829e;"></div><div class="r" style="left:277.00px;top:331.00px;width:1.00px;height:16.00px;background:#95829e;"></div><div class="r" style="left:39.00px;top:347.00px;width:64.00px;height:1.00px;background:#8897b0;"></div><div class="r" style="left:103.00px;top:347.00px;width:59.00px;height:1.00px;background:#8896b0;"></div><div class="r" style="left:103.00px;top:347.00px;width:1.00px;height:15.00px;background:#8896b0;"></div><div class="r" style="left:162.00px;top:347.00px;width:58.00px;height:1.00px;background:#859bb4;"></div><div class="r" style="left:162.00px;top:347.00px;width:1.00px;height:15.00px;background:#859bb4;"></div><div class="r" style="left:220.00px;top:347.00px;width:57.00px;height:1.00px;background:#859bb4;"></div><div class="r" style="left:220.00px;top:347.00px;width:1.00px;height:15.00px;background:#859bb4;"></div><div class="r" style="left:277.00px;top:347.00px;width:60.00px;height:1.00px;background:#95829e;"></div><div class="r" style="left:277.00px;top:347.00px;width:1.00px;height:15.00px;background:#95829e;"></div><div class="r" style="left:39.00px;top:362.00px;width:64.00px;height:1.00px;background:#8897b0;"></div><div class="r" style="left:103.00px;top:362.00px;width:59.00px;height:1.00px;background:#8896b0;"></div><div class="r" style="left:103.00px;top:362.00px;width:1.00px;height:16.00px;background:#8896b0;"></div><div class="r" style="left:162.00px;top:362.00px;width:58.00px;height:1.00px;background:#859bb4;"></div><div class="r" style="left:162.00px;top:362.00px;width:1.00px;height:16.00px;background:#859bb4;"></div><div class="r" style="left:220.00px;top:362.00px;width:57.00px;height:1.00px;background:#859bb4;"></div><div class="r" style="left:220.00px;top:362.00px;width:1.00px;height:16.00px;background:#859bb4;"></div><div class="r" style="left:277.00px;top:362.00px;width:60.00px;height:1.00px;background:#95839e;"></div><div class="r" style="left:277.00px;top:362.00px;width:1.00px;height:16.00px;background:#95839e;"></div><div class="r" style="left:39.00px;top:378.00px;width:64.00px;height:1.00px;background:#8897b0;"></div><div class="r" style="left:103.00px;top:378.00px;width:59.00px;height:1.00px;background:#8896b0;"></div><div class="r" style="left:103.00px;top:378.00px;width:1.00px;height:16.00px;background:#8896b0;"></div><div class="r" style="left:162.00px;top:378.00px;width:58.00px;height:1.00px;background:#859bb4;"></div><div class="r" style="left:162.00px;top:378.00px;width:1.00px;height:16.00px;background:#859bb4;"></div><div class="r" style="left:220.00px;top:378.00px;width:57.00px;height:1.00px;background:#859bb4;"></div><div class="r" style="left:220.00px;top:378.00px;width:1.00px;height:16.00px;background:#859bb4;"></div><div class="r" style="left:277.00px;top:378.00px;width:60.00px;height:1.00px;background:#94839f;"></div><div class="r" style="left:277.00px;top:378.00px;width:1.00px;height:16.00px;background:#94839f;"></div><div class="r" style="left:39.00px;top:394.00px;width:64.00px;height:1.00px;background:#8897b0;"></div><div class="r" style="left:103.00px;top:394.00px;width:59.00px;height:1.00px;background:#8897b0;"></div><div class="r" style="left:103.00px;top:394.00px;width:1.00px;height:15.00px;background:#8897b0;"></div><div class="r" style="left:162.00px;top:394.00px;width:58.00px;height:1.00px;background:#859bb4;"></div><div class="r" style="left:162.00px;top:394.00px;width:1.00px;height:15.00px;background:#859bb4;"></div><div class="r" style="left:220.00px;top:394.00px;width:57.00px;height:1.00px;background:#859bb4;"></div><div class="r" style="left:220.00px;top:394.00px;width:1.00px;height:15.00px;background:#859bb4;"></div><div class="r" style="left:277.00px;top:394.00px;width:60.00px;height:1.00px;background:#94839f;"></div><div class="r" style="left:277.00px;top:394.00px;width:1.00px;height:15.00px;background:#94839f;"></div><div class="r" style="left:39.00px;top:409.00px;width:64.00px;height:1.00px;background:#8897b0;"></div><div class="r" style="left:103.00px;top:409.00px;width:59.00px;height:1.00px;background:#8897b0;"></div><div class="r" style="left:103.00px;top:409.00px;width:1.00px;height:16.00px;background:#8897b0;"></div><div class="r" style="left:162.00px;top:409.00px;width:58.00px;height:1.00px;background:#859bb4;"></div><div class="r" style="left:162.00px;top:409.00px;width:1.00px;height:16.00px;background:#859bb4;"></div><div class="r" style="left:220.00px;top:409.00px;width:57.00px;height:1.00px;background:#859bb4;"></div><div class="r" style="left:220.00px;top:409.00px;width:1.00px;height:16.00px;background:#859bb4;"></div><div class="r" style="left:277.00px;top:409.00px;width:60.00px;height:1.00px;background:#94849f;"></div><div class="r" style="left:277.00px;top:409.00px;width:1.00px;height:16.00px;background:#94849f;"></div><div class="r" style="left:39.00px;top:425.00px;width:64.00px;height:1.00px;background:#8897b1;"></div><div class="r" style="left:103.00px;top:425.00px;width:59.00px;height:1.00px;background:#8897b0;"></div><div class="r" style="left:103.00px;top:425.00px;width:1.00px;height:16.00px;background:#8897b0;"></div><div class="r" style="left:162.00px;top:425.00px;width:58.00px;height:1.00px;background:#859bb4;"></div><div class="r" style="left:162.00px;top:425.00px;width:1.00px;height:16.00px;background:#859bb4;"></div><div class="r" style="left:220.00px;top:425.00px;width:57.00px;height:1.00px;background:#859bb4;"></div><div class="r" style="left:220.00px;top:425.00px;width:1.00px;height:16.00px;background:#859bb4;"></div><div class="r" style="left:277.00px;top:425.00px;width:60.00px;height:1.00px;background:#94849f;"></div><div class="r" style="left:277.00px;top:425.00px;width:1.00px;height:16.00px;background:#94849f;"></div><div class="r" style="left:39.00px;top:441.00px;width:64.00px;height:1.00px;background:#8897b1;"></div><div class="r" style="left:103.00px;top:441.00px;width:59.00px;height:1.00px;background:#8897b0;"></div><div class="r" style="left:103.00px;top:441.00px;width:1.00px;height:16.00px;background:#8897b0;"></div><div class="r" style="left:162.00px;top:441.00px;width:58.00px;height:1.00px;background:#859bb4;"></div><div class="r" style="left:162.00px;top:441.00px;width:1.00px;height:16.00px;background:#859bb4;"></div><div class="r" style="left:220.00px;top:441.00px;width:57.00px;height:1.00px;background:#859bb4;"></div><div class="r" style="left:220.00px;top:441.00px;width:1.00px;height:16.00px;background:#859bb4;"></div><div class="r" style="left:277.00px;top:441.00px;width:60.00px;height:1.00px;background:#9484a0;"></div><div class="r" style="left:277.00px;top:441.00px;width:1.00px;height:16.00px;background:#9484a0;"></div><div class="r" style="left:39.00px;top:457.00px;width:64.00px;height:1.00px;background:#8897b1;"></div><div class="r" style="left:103.00px;top:457.00px;width:59.00px;height:1.00px;background:#8897b0;"></div><div class="r" style="left:103.00px;top:457.00px;width:1.00px;height:15.00px;background:#8897b0;"></div><div class="r" style="left:162.00px;top:457.00px;width:58.00px;height:1.00px;background:#859bb4;"></div><div class="r" style="left:162.00px;top:457.00px;width:1.00px;height:15.00px;background:#859bb4;"></div><div class="r" style="left:220.00px;top:457.00px;width:57.00px;height:1.00px;background:#859bb4;"></div><div class="r" style="left:220.00px;top:457.00px;width:1.00px;height:15.00px;background:#859bb4;"></div><div class="r" style="left:277.00px;top:457.00px;width:60.00px;height:1.00px;background:#9485a0;"></div><div class="r" style="left:277.00px;top:457.00px;width:1.00px;height:15.00px;background:#9485a0;"></div><div class="r" style="left:39.00px;top:472.00px;width:64.00px;height:1.00px;background:#859bb4;"></div><div class="r" style="left:103.00px;top:472.00px;width:59.00px;height:1.00px;background:#859bb4;"></div><div class="r" style="left:103.00px;top:472.00px;width:1.00px;height:16.00px;background:#859bb4;"></div><div class="r" style="left:162.00px;top:472.00px;width:58.00px;height:1.00px;background:#859bb4;"></div><div class="r" style="left:162.00px;top:472.00px;width:1.00px;height:16.00px;background:#859bb4;"></div><div class="r" style="left:220.00px;top:472.00px;width:57.00px;height:1.00px;background:#859bb4;"></div><div class="r" style="left:220.00px;top:472.00px;width:1.00px;height:16.00px;background:#859bb4;"></div><div class="r" style="left:277.00px;top:472.00px;width:60.00px;height:1.00px;background:#859bb4;"></div><div class="r" style="left:277.00px;top:472.00px;width:1.00px;height:16.00px;background:#859bb4;"></div><div class="r" style="left:39.00px;top:488.00px;width:64.00px;height:1.00px;background:#859bb4;"></div><div class="r" style="left:103.00px;top:488.00px;width:59.00px;height:1.00px;background:#859bb4;"></div><div class="r" style="left:103.00px;top:488.00px;width:1.00px;height:16.00px;background:#859bb4;"></div><div class="r" style="left:162.00px;top:488.00px;width:58.00px;height:1.00px;background:#859bb4;"></div><div class="r" style="left:162.00px;top:488.00px;width:1.00px;height:16.00px;background:#859bb4;"></div><div class="r" style="left:220.00px;top:488.00px;width:57.00px;height:1.00px;background:#859bb4;"></div><div class="r" style="left:220.00px;top:488.00px;width:1.00px;height:16.00px;background:#859bb4;"></div><div class="r" style="left:277.00px;top:488.00px;width:60.00px;height:1.00px;background:#859bb4;"></div><div class="r" style="left:277.00px;top:488.00px;width:1.00px;height:16.00px;background:#859bb4;"></div><div class="r" style="left:39.00px;top:504.00px;width:64.00px;height:1.00px;background:#859bb4;"></div><div class="r" style="left:103.00px;top:504.00px;width:59.00px;height:1.00px;background:#859bb4;"></div><div class="r" style="left:103.00px;top:504.00px;width:1.00px;height:15.00px;background:#859bb4;"></div><div class="r" style="left:162.00px;top:504.00px;width:58.00px;height:1.00px;background:#859bb4;"></div><div class="r" style="left:162.00px;top:504.00px;width:1.00px;height:15.00px;background:#859bb4;"></div><div class="r" style="left:220.00px;top:504.00px;width:57.00px;height:1.00px;background:#859bb4;"></div><div class="r" style="left:220.00px;top:504.00px;width:1.00px;height:15.00px;background:#859bb4;"></div><div class="r" style="left:277.00px;top:504.00px;width:60.00px;height:1.00px;background:#859bb4;"></div><div class="r" style="left:277.00px;top:504.00px;width:1.00px;height:15.00px;background:#859bb4;"></div><div class="r" style="left:39.00px;top:519.00px;width:64.00px;height:1.00px;background:#8698b2;"></div><div class="r" style="left:103.00px;top:519.00px;width:59.00px;height:1.00px;background:#8798b1;"></div><div class="r" style="left:103.00px;top:519.00px;width:1.00px;height:16.00px;background:#8798b1;"></div><div class="r" style="left:162.00px;top:519.00px;width:58.00px;height:1.00px;background:#859bb4;"></div><div class="r" style="left:162.00px;top:519.00px;width:1.00px;height:16.00px;background:#859bb4;"></div><div class="r" style="left:220.00px;top:519.00px;width:57.00px;height:1.00px;background:#859bb4;"></div><div class="r" style="left:220.00px;top:519.00px;width:1.00px;height:16.00px;background:#859bb4;"></div><div class="r" style="left:277.00px;top:519.00px;width:60.00px;height:1.00px;background:#9387a2;"></div><div class="r" style="left:277.00px;top:519.00px;width:1.00px;height:16.00px;background:#9387a2;"></div><div class="r" style="left:39.00px;top:535.00px;width:64.00px;height:1.00px;background:#8699b2;"></div><div class="r" style="left:103.00px;top:535.00px;width:59.00px;height:1.00px;background:#8698b2;"></div><div class="r" style="left:103.00px;top:535.00px;width:1.00px;height:16.00px;background:#8698b2;"></div><div class="r" style="left:162.00px;top:535.00px;width:58.00px;height:1.00px;background:#859bb4;"></div><div class="r" style="left:162.00px;top:535.00px;width:1.00px;height:16.00px;background:#859bb4;"></div><div class="r" style="left:220.00px;top:535.00px;width:57.00px;height:1.00px;background:#859bb4;"></div><div class="r" style="left:220.00px;top:535.00px;width:1.00px;height:16.00px;background:#859bb4;"></div><div class="r" style="left:277.00px;top:535.00px;width:60.00px;height:1.00px;background:#859bb4;"></div><div class="r" style="left:277.00px;top:535.00px;width:1.00px;height:16.00px;background:#859bb4;"></div><div class="r" style="left:39.00px;top:551.00px;width:64.00px;height:1.00px;background:#859bb4;"></div><div class="r" style="left:103.00px;top:551.00px;width:59.00px;height:1.00px;background:#859bb4;"></div><div class="r" style="left:103.00px;top:551.00px;width:1.00px;height:16.00px;background:#859bb4;"></div><div class="r" style="left:162.00px;top:551.00px;width:58.00px;height:1.00px;background:#859bb4;"></div><div class="r" style="left:162.00px;top:551.00px;width:1.00px;height:16.00px;background:#859bb4;"></div><div class="r" style="left:220.00px;top:551.00px;width:57.00px;height:1.00px;background:#859bb4;"></div><div class="r" style="left:220.00px;top:551.00px;width:1.00px;height:16.00px;background:#859bb4;"></div><div class="r" style="left:277.00px;top:551.00px;width:60.00px;height:1.00px;background:#859bb4;"></div><div class="r" style="left:277.00px;top:551.00px;width:1.00px;height:16.00px;background:#859bb4;"></div><div class="r" style="left:39.00px;top:567.00px;width:64.00px;height:1.00px;background:#8699b3;"></div><div class="r" style="left:103.00px;top:567.00px;width:59.00px;height:1.00px;background:#8699b2;"></div><div class="r" style="left:103.00px;top:567.00px;width:1.00px;height:15.00px;background:#8699b2;"></div><div class="r" style="left:162.00px;top:567.00px;width:58.00px;height:1.00px;background:#859bb4;"></div><div class="r" style="left:162.00px;top:567.00px;width:1.00px;height:15.00px;background:#859bb4;"></div><div class="r" style="left:220.00px;top:567.00px;width:57.00px;height:1.00px;background:#859bb4;"></div><div class="r" style="left:220.00px;top:567.00px;width:1.00px;height:15.00px;background:#859bb4;"></div><div class="r" style="left:277.00px;top:567.00px;width:60.00px;height:1.00px;background:#9188a3;"></div><div class="r" style="left:277.00px;top:567.00px;width:1.00px;height:15.00px;background:#9188a3;"></div><div class="r" style="left:39.00px;top:582.00px;width:64.00px;height:1.00px;background:#859bb4;"></div><div class="r" style="left:103.00px;top:582.00px;width:59.00px;height:1.00px;background:#859bb4;"></div><div class="r" style="left:103.00px;top:582.00px;width:1.00px;height:16.00px;background:#859bb4;"></div><div class="r" style="left:162.00px;top:582.00px;width:58.00px;height:1.00px;background:#859bb4;"></div><div class="r" style="left:162.00px;top:582.00px;width:1.00px;height:16.00px;background:#859bb4;"></div><div class="r" style="left:220.00px;top:582.00px;width:57.00px;height:1.00px;background:#859bb4;"></div><div class="r" style="left:220.00px;top:582.00px;width:1.00px;height:16.00px;background:#859bb4;"></div><div class="r" style="left:277.00px;top:582.00px;width:60.00px;height:1.00px;background:#859bb4;"></div><div class="r" style="left:277.00px;top:582.00px;width:1.00px;height:16.00px;background:#859bb4;"></div><div class="r" style="left:39.00px;top:598.00px;width:64.00px;height:1.00px;background:#859bb4;"></div><div class="r" style="left:103.00px;top:598.00px;width:59.00px;height:1.00px;background:#859bb4;"></div><div class="r" style="left:103.00px;top:598.00px;width:1.00px;height:16.00px;background:#859bb4;"></div><div class="r" style="left:162.00px;top:598.00px;width:58.00px;height:1.00px;background:#859bb4;"></div><div class="r" style="left:162.00px;top:598.00px;width:1.00px;height:16.00px;background:#859bb4;"></div><div class="r" style="left:220.00px;top:598.00px;width:57.00px;height:1.00px;background:#859bb4;"></div><div class="r" style="left:220.00px;top:598.00px;width:1.00px;height:16.00px;background:#859bb4;"></div><div class="r" style="left:277.00px;top:598.00px;width:60.00px;height:1.00px;background:#859bb4;"></div><div class="r" style="left:277.00px;top:598.00px;width:1.00px;height:16.00px;background:#859bb4;"></div><div class="r" style="left:39.00px;top:95.00px;width:298.00px;height:1.00px;background:#98b3ef;"></div><div class="r" style="left:39.00px;top:111.00px;width:298.00px;height:1.00px;background:#98b3ef;"></div><div class="r" style="left:39.00px;top:126.00px;width:298.00px;height:1.00px;background:#4460a8;"></div><div class="r" style="left:39.00px;top:95.00px;width:1.00px;height:32.00px;background:#98b3ef;"></div><div class="r" style="left:103.00px;top:95.00px;width:1.00px;height:32.00px;background:#98b3ef;"></div><div class="r" style="left:162.00px;top:95.00px;width:1.00px;height:32.00px;background:#98b3ef;"></div><div class="r" style="left:220.00px;top:95.00px;width:1.00px;height:32.00px;background:#98b3ef;"></div><div class="r" style="left:277.00px;top:95.00px;width:1.00px;height:32.00px;background:#98b3ef;"></div><div class="r" style="left:336.00px;top:95.00px;width:1.00px;height:32.00px;background:#98b3ef;"></div><div class="t lab avg" style="left:3.50px;top:625.76px;width:40.00px;height:14.00px;">均价</div><div class="t av1" style="left:39.65px;top:619.26px;width:64.10px;height:13.00px;">522万</div><div class="t av2" style="left:39.65px;top:631.26px;width:64.10px;height:11.00px;">50423元/㎡</div><div class="t av1" style="left:103.75px;top:619.26px;width:58.65px;height:13.00px;">505万</div><div class="t av2" style="left:103.75px;top:631.26px;width:58.65px;height:11.00px;">50957元/㎡</div><div class="t av1" style="left:162.40px;top:619.26px;width:58.00px;height:13.00px;">448万</div><div class="t av2" style="left:162.40px;top:631.26px;width:58.00px;height:11.00px;">50778元/㎡</div><div class="t av1" style="left:220.40px;top:619.26px;width:57.25px;height:13.00px;">790万</div><div class="t av2" style="left:220.40px;top:631.26px;width:57.25px;height:11.00px;">56051元/㎡</div><div class="t av1" style="left:277.65px;top:619.26px;width:58.75px;height:13.00px;">752万</div><div class="t av2" style="left:277.65px;top:631.26px;width:58.75px;height:11.00px;">53324元/㎡</div><div class="r" style="left:352.00px;top:221.00px;width:32.00px;height:394.00px;background:#4d6bb6;"></div><div class="r" style="left:384.00px;top:221.00px;width:349.00px;height:33.00px;background:#4b6cb8;"></div><div class="r" style="left:384.00px;top:254.00px;width:57.00px;height:14.00px;background:#d0eafc;"></div><div class="t dash" style="left:384.40px;top:253.04px;width:57.40px;height:15.72px;color:#333f62">-</div><div class="r" style="left:441.00px;top:254.00px;width:59.00px;height:14.00px;background:#d0eafc;"></div><div class="t dash" style="left:441.80px;top:253.04px;width:58.60px;height:15.72px;color:#333f62">-</div><div class="r" style="left:500.00px;top:254.00px;width:58.00px;height:14.00px;background:#b1e2e0;"></div><div class="t num" style="left:500.40px;top:252.94px;width:57.70px;height:15.72px;color:#284b69">420</div><div class="r" style="left:558.00px;top:254.00px;width:58.00px;height:14.00px;background:#b0e2df;"></div><div class="t num" style="left:558.10px;top:252.94px;width:58.50px;height:15.72px;color:#274c6a">419</div><div class="r" style="left:616.00px;top:254.00px;width:58.00px;height:14.00px;background:#ace1db;"></div><div class="t num" style="left:616.60px;top:252.94px;width:57.80px;height:15.72px;color:#264d6b">415</div><div class="r" style="left:674.00px;top:254.00px;width:59.00px;height:14.00px;background:#52ca89;"></div><div class="t num" style="left:674.40px;top:252.94px;width:57.80px;height:15.72px;color:#1b5a44">336</div><div class="t lab" style="left:347.70px;top:253.04px;width:40.00px;height:15.72px;">23层</div><div class="r" style="left:384.00px;top:268.00px;width:57.00px;height:16.00px;background:#d0eafc;"></div><div class="t dash" style="left:384.40px;top:268.76px;width:57.40px;height:15.72px;color:#333f62">-</div><div class="r" style="left:441.00px;top:268.00px;width:59.00px;height:16.00px;background:#d0eafc;"></div><div class="t dash" style="left:441.80px;top:268.76px;width:58.60px;height:15.72px;color:#333f62">-</div><div class="r" style="left:500.00px;top:268.00px;width:58.00px;height:16.00px;background:#b0e2df;"></div><div class="t num" style="left:500.40px;top:268.66px;width:57.70px;height:15.72px;color:#274c6a">419</div><div class="r" style="left:558.00px;top:268.00px;width:58.00px;height:16.00px;background:#aee1dd;"></div><div class="t num" style="left:558.10px;top:268.66px;width:58.50px;height:15.72px;color:#274d6a">417</div><div class="r" style="left:616.00px;top:268.00px;width:58.00px;height:16.00px;background:#aae1da;"></div><div class="t num" style="left:616.60px;top:268.66px;width:57.80px;height:15.72px;color:#254e6b">414</div><div class="r" style="left:674.00px;top:268.00px;width:59.00px;height:16.00px;background:#51ca88;"></div><div class="t num" style="left:674.40px;top:268.66px;width:57.80px;height:15.72px;color:#1b5a44">335</div><div class="t lab" style="left:347.70px;top:268.76px;width:40.00px;height:15.72px;">22层</div><div class="r" style="left:384.00px;top:284.00px;width:57.00px;height:16.00px;background:#d0eafc;"></div><div class="t num" style="left:384.40px;top:284.38px;width:57.40px;height:15.72px;color:#333f62">474</div><div class="r" style="left:441.00px;top:284.00px;width:59.00px;height:16.00px;background:#d0eafc;"></div><div class="t num" style="left:441.80px;top:284.38px;width:58.60px;height:15.72px;color:#333f62">472</div><div class="r" style="left:500.00px;top:284.00px;width:58.00px;height:16.00px;background:#aee1dd;"></div><div class="t num" style="left:500.40px;top:284.38px;width:57.70px;height:15.72px;color:#274d6a">417</div><div class="r" style="left:558.00px;top:284.00px;width:58.00px;height:16.00px;background:#ace1db;"></div><div class="t num" style="left:558.10px;top:284.38px;width:58.50px;height:15.72px;color:#264d6b">415</div><div class="r" style="left:616.00px;top:284.00px;width:58.00px;height:16.00px;background:#a8e0d8;"></div><div class="t num" style="left:616.60px;top:284.38px;width:57.80px;height:15.72px;color:#254f6c">412</div><div class="r" style="left:674.00px;top:284.00px;width:59.00px;height:16.00px;background:#4fca87;"></div><div class="t num" style="left:674.40px;top:284.38px;width:57.80px;height:15.72px;color:#1b5a44">334</div><div class="t lab" style="left:347.70px;top:284.48px;width:40.00px;height:15.72px;">21层</div><div class="r" style="left:384.00px;top:300.00px;width:57.00px;height:15.00px;background:#d0eafc;"></div><div class="t dash" style="left:384.40px;top:300.20px;width:57.40px;height:15.72px;color:#333f62">-</div><div class="r" style="left:441.00px;top:300.00px;width:59.00px;height:15.00px;background:#d0eafc;"></div><div class="t dash" style="left:441.80px;top:300.20px;width:58.60px;height:15.72px;color:#333f62">-</div><div class="r" style="left:500.00px;top:300.00px;width:58.00px;height:15.00px;background:#ace1db;"></div><div class="t num" style="left:500.40px;top:300.10px;width:57.70px;height:15.72px;color:#264d6b">415</div><div class="r" style="left:558.00px;top:300.00px;width:58.00px;height:15.00px;background:#a9e0d9;"></div><div class="t num" style="left:558.10px;top:300.10px;width:58.50px;height:15.72px;color:#254e6b">413</div><div class="r" style="left:616.00px;top:300.00px;width:58.00px;height:15.00px;background:#a6dfd6;"></div><div class="t num" style="left:616.60px;top:300.10px;width:57.80px;height:15.72px;color:#24506c">410</div><div class="r" style="left:674.00px;top:300.00px;width:59.00px;height:15.00px;background:#4dc985;"></div><div class="t num" style="left:674.40px;top:300.10px;width:57.80px;height:15.72px;color:#1b5a44">332</div><div class="t lab" style="left:347.70px;top:300.20px;width:40.00px;height:15.72px;">20层</div><div class="r" style="left:384.00px;top:315.00px;width:57.00px;height:16.00px;background:#d0eafc;"></div><div class="t num" style="left:384.40px;top:315.82px;width:57.40px;height:15.72px;color:#333f62">470</div><div class="r" style="left:441.00px;top:315.00px;width:59.00px;height:16.00px;background:#d0eafc;"></div><div class="t num" style="left:441.80px;top:315.82px;width:58.60px;height:15.72px;color:#333f62">468</div><div class="r" style="left:500.00px;top:315.00px;width:58.00px;height:16.00px;background:#a9e0d9;"></div><div class="t num" style="left:500.40px;top:315.82px;width:57.70px;height:15.72px;color:#254e6b">413</div><div class="r" style="left:558.00px;top:315.00px;width:58.00px;height:16.00px;background:#a8e0d8;"></div><div class="t num" style="left:558.10px;top:315.82px;width:58.50px;height:15.72px;color:#254f6c">412</div><div class="r" style="left:616.00px;top:315.00px;width:58.00px;height:16.00px;background:#a5dfd5;"></div><div class="t num" style="left:616.60px;top:315.82px;width:57.80px;height:15.72px;color:#23506c">409</div><div class="r" style="left:674.00px;top:315.00px;width:59.00px;height:16.00px;background:#4cc984;"></div><div class="t num" style="left:674.40px;top:315.82px;width:57.80px;height:15.72px;color:#1b5a44">331</div><div class="t lab" style="left:347.70px;top:315.92px;width:40.00px;height:15.72px;">19层</div><div class="r" style="left:384.00px;top:331.00px;width:57.00px;height:16.00px;background:#d0eafc;"></div><div class="t num" style="left:384.40px;top:331.54px;width:57.40px;height:15.72px;color:#333f62">468</div><div class="r" style="left:441.00px;top:331.00px;width:59.00px;height:16.00px;background:#d0eafc;"></div><div class="t num" style="left:441.80px;top:331.54px;width:58.60px;height:15.72px;color:#333f62">466</div><div class="r" style="left:500.00px;top:331.00px;width:58.00px;height:16.00px;background:#a8e0d8;"></div><div class="t num" style="left:500.40px;top:331.54px;width:57.70px;height:15.72px;color:#254f6c">412</div><div class="r" style="left:558.00px;top:331.00px;width:58.00px;height:16.00px;background:#a6dfd6;"></div><div class="t num" style="left:558.10px;top:331.54px;width:58.50px;height:15.72px;color:#24506c">410</div><div class="r" style="left:616.00px;top:331.00px;width:58.00px;height:16.00px;background:#a3ded3;"></div><div class="t num" style="left:616.60px;top:331.54px;width:57.80px;height:15.72px;color:#23516d">407</div><div class="r" style="left:674.00px;top:331.00px;width:59.00px;height:16.00px;background:#4ac882;"></div><div class="t num" style="left:674.40px;top:331.54px;width:57.80px;height:15.72px;color:#1b5a44">329</div><div class="t lab" style="left:347.70px;top:331.64px;width:40.00px;height:15.72px;">18层</div><div class="r" style="left:384.00px;top:347.00px;width:57.00px;height:16.00px;background:#d0eafc;"></div><div class="t num" style="left:384.40px;top:347.26px;width:57.40px;height:15.72px;color:#333f62">466</div><div class="r" style="left:441.00px;top:347.00px;width:59.00px;height:16.00px;background:#d0eafc;"></div><div class="t num" style="left:441.80px;top:347.26px;width:58.60px;height:15.72px;color:#333f62">464</div><div class="r" style="left:500.00px;top:347.00px;width:58.00px;height:16.00px;background:#a6dfd6;"></div><div class="t num" style="left:500.40px;top:347.26px;width:57.70px;height:15.72px;color:#24506c">410</div><div class="r" style="left:558.00px;top:347.00px;width:58.00px;height:16.00px;background:#a4dfd4;"></div><div class="t num" style="left:558.10px;top:347.26px;width:58.50px;height:15.72px;color:#23516d">408</div><div class="r" style="left:616.00px;top:347.00px;width:58.00px;height:16.00px;background:#a0ded1;"></div><div class="t num" style="left:616.60px;top:347.26px;width:57.80px;height:15.72px;color:#22526e">405</div><div class="r" style="left:674.00px;top:347.00px;width:59.00px;height:16.00px;background:#49c881;"></div><div class="t num" style="left:674.40px;top:347.26px;width:57.80px;height:15.72px;color:#1b5a44">328</div><div class="t lab" style="left:347.70px;top:347.36px;width:40.00px;height:15.72px;">17层</div><div class="r" style="left:384.00px;top:363.00px;width:57.00px;height:15.00px;background:#d0eafc;"></div><div class="t num" style="left:384.40px;top:362.98px;width:57.40px;height:15.72px;color:#333f62">464</div><div class="r" style="left:441.00px;top:363.00px;width:59.00px;height:15.00px;background:#d0eafc;"></div><div class="t num" style="left:441.80px;top:362.98px;width:58.60px;height:15.72px;color:#333f62">462</div><div class="r" style="left:500.00px;top:363.00px;width:58.00px;height:15.00px;background:#a4dfd4;"></div><div class="t num" style="left:500.40px;top:362.98px;width:57.70px;height:15.72px;color:#23516d">408</div><div class="r" style="left:558.00px;top:363.00px;width:58.00px;height:15.00px;background:#a1ded2;"></div><div class="t num" style="left:558.10px;top:362.98px;width:58.50px;height:15.72px;color:#22516d">406</div><div class="r" style="left:616.00px;top:363.00px;width:58.00px;height:15.00px;background:#9eddcf;"></div><div class="t num" style="left:616.60px;top:362.98px;width:57.80px;height:15.72px;color:#21536e">403</div><div class="r" style="left:674.00px;top:363.00px;width:59.00px;height:15.00px;background:#46c77f;"></div><div class="t num" style="left:674.40px;top:362.98px;width:57.80px;height:15.72px;color:#1b5a44">326</div><div class="t lab" style="left:347.70px;top:363.08px;width:40.00px;height:15.72px;">16层</div><div class="r" style="left:384.00px;top:378.00px;width:57.00px;height:16.00px;background:#d0eafc;"></div><div class="t num" style="left:384.40px;top:378.70px;width:57.40px;height:15.72px;color:#333f62">462</div><div class="r" style="left:441.00px;top:378.00px;width:59.00px;height:16.00px;background:#d0eafc;"></div><div class="t num" style="left:441.80px;top:378.70px;width:58.60px;height:15.72px;color:#333f62">460</div><div class="r" style="left:500.00px;top:378.00px;width:58.00px;height:16.00px;background:#a1ded2;"></div><div class="t num" style="left:500.40px;top:378.70px;width:57.70px;height:15.72px;color:#22516d">406</div><div class="r" style="left:558.00px;top:378.00px;width:58.00px;height:16.00px;background:#9fded0;"></div><div class="t num" style="left:558.10px;top:378.70px;width:58.50px;height:15.72px;color:#21526e">404</div><div class="r" style="left:616.00px;top:378.00px;width:58.00px;height:16.00px;background:#9cddcc;"></div><div class="t num" style="left:616.60px;top:378.70px;width:57.80px;height:15.72px;color:#20546f">401</div><div class="r" style="left:674.00px;top:378.00px;width:59.00px;height:16.00px;background:#45c77e;"></div><div class="t num" style="left:674.40px;top:378.70px;width:57.80px;height:15.72px;color:#1b5a44">325</div><div class="t lab" style="left:347.70px;top:378.80px;width:40.00px;height:15.72px;">15层</div><div class="r" style="left:384.00px;top:394.00px;width:57.00px;height:16.00px;background:#d0eafc;"></div><div class="t num" style="left:384.40px;top:394.42px;width:57.40px;height:15.72px;color:#333f62">460</div><div class="r" style="left:441.00px;top:394.00px;width:59.00px;height:16.00px;background:#d0eafc;"></div><div class="t num" style="left:441.80px;top:394.42px;width:58.60px;height:15.72px;color:#333f62">458</div><div class="r" style="left:500.00px;top:394.00px;width:58.00px;height:16.00px;background:#a0ded1;"></div><div class="t num" style="left:500.40px;top:394.42px;width:57.70px;height:15.72px;color:#22526e">405</div><div class="r" style="left:558.00px;top:394.00px;width:58.00px;height:16.00px;background:#9eddcf;"></div><div class="t num" style="left:558.10px;top:394.42px;width:58.50px;height:15.72px;color:#21536e">403</div><div class="r" style="left:616.00px;top:394.00px;width:58.00px;height:16.00px;background:#99dcca;"></div><div class="t num" style="left:616.60px;top:394.42px;width:57.80px;height:15.72px;color:#1f556f">399</div><div class="r" style="left:674.00px;top:394.00px;width:59.00px;height:16.00px;background:#40c579;"></div><div class="t num" style="left:674.40px;top:394.42px;width:57.80px;height:15.72px;color:#1b5a44">320</div><div class="t lab" style="left:347.70px;top:394.52px;width:40.00px;height:15.72px;">14层</div><div class="r" style="left:384.00px;top:410.00px;width:57.00px;height:15.00px;background:#d0eafc;"></div><div class="t dash" style="left:384.40px;top:410.24px;width:57.40px;height:15.72px;color:#333f62">-</div><div class="r" style="left:441.00px;top:410.00px;width:59.00px;height:15.00px;background:#d0eafc;"></div><div class="t dash" style="left:441.80px;top:410.24px;width:58.60px;height:15.72px;color:#333f62">-</div><div class="r" style="left:500.00px;top:410.00px;width:58.00px;height:15.00px;background:#d0eafc;"></div><div class="t dash" style="left:500.40px;top:410.24px;width:57.70px;height:15.72px;color:#333f62">-</div><div class="r" style="left:558.00px;top:410.00px;width:58.00px;height:15.00px;background:#d0eafc;"></div><div class="t dash" style="left:558.10px;top:410.24px;width:58.50px;height:15.72px;color:#333f62">-</div><div class="r" style="left:616.00px;top:410.00px;width:58.00px;height:15.00px;background:#d0eafc;"></div><div class="t dash" style="left:616.60px;top:410.24px;width:57.80px;height:15.72px;color:#333f62">-</div><div class="r" style="left:674.00px;top:410.00px;width:59.00px;height:15.00px;background:#d0eafc;"></div><div class="t dash" style="left:674.40px;top:410.24px;width:57.80px;height:15.72px;color:#333f62">-</div><div class="t lab" style="left:347.70px;top:410.24px;width:40.00px;height:15.72px;">13层</div><div class="r" style="left:384.00px;top:425.00px;width:57.00px;height:16.00px;background:#d0eafc;"></div><div class="t dash" style="left:384.40px;top:425.96px;width:57.40px;height:15.72px;color:#333f62">-</div><div class="r" style="left:441.00px;top:425.00px;width:59.00px;height:16.00px;background:#d0eafc;"></div><div class="t dash" style="left:441.80px;top:425.96px;width:58.60px;height:15.72px;color:#333f62">-</div><div class="r" style="left:500.00px;top:425.00px;width:58.00px;height:16.00px;background:#d0eafc;"></div><div class="t dash" style="left:500.40px;top:425.96px;width:57.70px;height:15.72px;color:#333f62">-</div><div class="r" style="left:558.00px;top:425.00px;width:58.00px;height:16.00px;background:#d0eafc;"></div><div class="t dash" style="left:558.10px;top:425.96px;width:58.50px;height:15.72px;color:#333f62">-</div><div class="r" style="left:616.00px;top:425.00px;width:58.00px;height:16.00px;background:#d0eafc;"></div><div class="t dash" style="left:616.60px;top:425.96px;width:57.80px;height:15.72px;color:#333f62">-</div><div class="r" style="left:674.00px;top:425.00px;width:59.00px;height:16.00px;background:#d0eafc;"></div><div class="t dash" style="left:674.40px;top:425.96px;width:57.80px;height:15.72px;color:#333f62">-</div><div class="t lab" style="left:347.70px;top:425.96px;width:40.00px;height:15.72px;">12层</div><div class="r" style="left:384.00px;top:441.00px;width:57.00px;height:16.00px;background:#d0eafc;"></div><div class="t dash" style="left:384.40px;top:441.68px;width:57.40px;height:15.72px;color:#333f62">-</div><div class="r" style="left:441.00px;top:441.00px;width:59.00px;height:16.00px;background:#d0eafc;"></div><div class="t dash" style="left:441.80px;top:441.68px;width:58.60px;height:15.72px;color:#333f62">-</div><div class="r" style="left:500.00px;top:441.00px;width:58.00px;height:16.00px;background:#d0eafc;"></div><div class="t dash" style="left:500.40px;top:441.68px;width:57.70px;height:15.72px;color:#333f62">-</div><div class="r" style="left:558.00px;top:441.00px;width:58.00px;height:16.00px;background:#d0eafc;"></div><div class="t dash" style="left:558.10px;top:441.68px;width:58.50px;height:15.72px;color:#333f62">-</div><div class="r" style="left:616.00px;top:441.00px;width:58.00px;height:16.00px;background:#82d6b5;"></div><div class="t num" style="left:616.60px;top:441.58px;width:57.80px;height:15.72px;color:#1e5670">378</div><div class="r" style="left:674.00px;top:441.00px;width:59.00px;height:16.00px;background:#d0eafc;"></div><div class="t dash" style="left:674.40px;top:441.68px;width:57.80px;height:15.72px;color:#333f62">-</div><div class="t lab" style="left:347.70px;top:441.68px;width:40.00px;height:15.72px;">11层</div><div class="r" style="left:384.00px;top:457.00px;width:57.00px;height:16.00px;background:#d0eafc;"></div><div class="t dash" style="left:384.40px;top:457.40px;width:57.40px;height:15.72px;color:#333f62">-</div><div class="r" style="left:441.00px;top:457.00px;width:59.00px;height:16.00px;background:#d0eafc;"></div><div class="t dash" style="left:441.80px;top:457.40px;width:58.60px;height:15.72px;color:#333f62">-</div><div class="r" style="left:500.00px;top:457.00px;width:58.00px;height:16.00px;background:#d0eafc;"></div><div class="t dash" style="left:500.40px;top:457.40px;width:57.70px;height:15.72px;color:#333f62">-</div><div class="r" style="left:558.00px;top:457.00px;width:58.00px;height:16.00px;background:#d0eafc;"></div><div class="t dash" style="left:558.10px;top:457.40px;width:58.50px;height:15.72px;color:#333f62">-</div><div class="r" style="left:616.00px;top:457.00px;width:58.00px;height:16.00px;background:#7fd6b3;"></div><div class="t num" style="left:616.60px;top:457.30px;width:57.80px;height:15.72px;color:#1e5670">376</div><div class="r" style="left:674.00px;top:457.00px;width:59.00px;height:16.00px;background:#31c26b;"></div><div class="t num" style="left:674.40px;top:457.30px;width:57.80px;height:15.72px;color:#1b5a44">307</div><div class="t lab" style="left:347.70px;top:457.40px;width:40.00px;height:15.72px;">10层</div><div class="r" style="left:384.00px;top:473.00px;width:57.00px;height:15.00px;background:#d0eafc;"></div><div class="t dash" style="left:384.40px;top:473.12px;width:57.40px;height:15.72px;color:#333f62">-</div><div class="r" style="left:441.00px;top:473.00px;width:59.00px;height:15.00px;background:#d0eafc;"></div><div class="t dash" style="left:441.80px;top:473.12px;width:58.60px;height:15.72px;color:#333f62">-</div><div class="r" style="left:500.00px;top:473.00px;width:58.00px;height:15.00px;background:#d0eafc;"></div><div class="t dash" style="left:500.40px;top:473.12px;width:57.70px;height:15.72px;color:#333f62">-</div><div class="r" style="left:558.00px;top:473.00px;width:58.00px;height:15.00px;background:#8ed9c0;"></div><div class="t num" style="left:558.10px;top:473.02px;width:58.50px;height:15.72px;color:#1e5670">389</div><div class="r" style="left:616.00px;top:473.00px;width:58.00px;height:15.00px;background:#7ed5b2;"></div><div class="t num" style="left:616.60px;top:473.02px;width:57.80px;height:15.72px;color:#1e5670">375</div><div class="r" style="left:674.00px;top:473.00px;width:59.00px;height:15.00px;background:#2fc169;"></div><div class="t num" style="left:674.40px;top:473.02px;width:57.80px;height:15.72px;color:#1b5a44">305</div><div class="t lab" style="left:347.70px;top:473.12px;width:40.00px;height:15.72px;">9层</div><div class="r" style="left:384.00px;top:488.00px;width:57.00px;height:16.00px;background:#cee9fa;"></div><div class="t num" style="left:384.40px;top:488.74px;width:57.40px;height:15.72px;color:#324063">445</div><div class="r" style="left:441.00px;top:488.00px;width:59.00px;height:16.00px;background:#cbe9f8;"></div><div class="t num" style="left:441.80px;top:488.74px;width:58.60px;height:15.72px;color:#314163">443</div><div class="r" style="left:500.00px;top:488.00px;width:58.00px;height:16.00px;background:#94dbc5;"></div><div class="t num" style="left:500.40px;top:488.74px;width:57.70px;height:15.72px;color:#1e5670">394</div><div class="r" style="left:558.00px;top:488.00px;width:58.00px;height:16.00px;background:#7fd6b3;"></div><div class="t num" style="left:558.10px;top:488.74px;width:58.50px;height:15.72px;color:#1e5670">376</div><div class="r" style="left:616.00px;top:488.00px;width:58.00px;height:16.00px;background:#74d3a8;"></div><div class="t num" style="left:616.60px;top:488.74px;width:57.80px;height:15.72px;color:#1e5670">366</div><div class="r" style="left:674.00px;top:488.00px;width:59.00px;height:16.00px;background:#2bc066;"></div><div class="t num" style="left:674.40px;top:488.74px;width:57.80px;height:15.72px;color:#1b5a44">302</div><div class="t lab" style="left:347.70px;top:488.84px;width:40.00px;height:15.72px;">8层</div><div class="r" style="left:384.00px;top:504.00px;width:57.00px;height:16.00px;background:#c8e8f5;"></div><div class="t num" style="left:384.40px;top:504.46px;width:57.40px;height:15.72px;color:#304264">440</div><div class="r" style="left:441.00px;top:504.00px;width:59.00px;height:16.00px;background:#c6e7f3;"></div><div class="t num" style="left:441.80px;top:504.46px;width:58.60px;height:15.72px;color:#2f4364">438</div><div class="r" style="left:500.00px;top:504.00px;width:58.00px;height:16.00px;background:#91dac3;"></div><div class="t num" style="left:500.40px;top:504.46px;width:57.70px;height:15.72px;color:#1e5670">392</div><div class="r" style="left:558.00px;top:504.00px;width:58.00px;height:16.00px;background:#7ed5b2;"></div><div class="t num" style="left:558.10px;top:504.46px;width:58.50px;height:15.72px;color:#1e5670">375</div><div class="r" style="left:616.00px;top:504.00px;width:58.00px;height:16.00px;background:#6fd2a4;"></div><div class="t num" style="left:616.60px;top:504.46px;width:57.80px;height:15.72px;color:#1e5670">362</div><div class="r" style="left:674.00px;top:504.00px;width:59.00px;height:16.00px;background:#29c064;"></div><div class="t num" style="left:674.40px;top:504.46px;width:57.80px;height:15.72px;color:#1b5a44">300</div><div class="t lab" style="left:347.70px;top:504.56px;width:40.00px;height:15.72px;">7层</div><div class="r" style="left:384.00px;top:520.00px;width:57.00px;height:16.00px;background:#c6e7f3;"></div><div class="t num" style="left:384.40px;top:520.18px;width:57.40px;height:15.72px;color:#2f4364">438</div><div class="r" style="left:441.00px;top:520.00px;width:59.00px;height:16.00px;background:#c3e7f1;"></div><div class="t num" style="left:441.80px;top:520.18px;width:58.60px;height:15.72px;color:#2e4465">436</div><div class="r" style="left:500.00px;top:520.00px;width:58.00px;height:16.00px;background:#8fdac1;"></div><div class="t num" style="left:500.40px;top:520.18px;width:57.70px;height:15.72px;color:#1e5670">390</div><div class="r" style="left:558.00px;top:520.00px;width:58.00px;height:16.00px;background:#7cd5b0;"></div><div class="t num" style="left:558.10px;top:520.18px;width:58.50px;height:15.72px;color:#1e5670">373</div><div class="r" style="left:616.00px;top:520.00px;width:58.00px;height:16.00px;background:#6dd1a2;"></div><div class="t num" style="left:616.60px;top:520.18px;width:57.80px;height:15.72px;color:#1e5670">360</div><div class="r" style="left:674.00px;top:520.00px;width:59.00px;height:16.00px;background:#28bf63;"></div><div class="t num" style="left:674.40px;top:520.18px;width:57.80px;height:15.72px;color:#1b5a44">299</div><div class="t lab" style="left:347.70px;top:520.28px;width:40.00px;height:15.72px;">6层</div><div class="r" style="left:384.00px;top:536.00px;width:57.00px;height:15.00px;background:#c2e7f0;"></div><div class="t num" style="left:384.40px;top:535.90px;width:57.40px;height:15.72px;color:#2e4465">435</div><div class="r" style="left:441.00px;top:536.00px;width:59.00px;height:15.00px;background:#c0e6ee;"></div><div class="t num" style="left:441.80px;top:535.90px;width:58.60px;height:15.72px;color:#2d4566">433</div><div class="r" style="left:500.00px;top:536.00px;width:58.00px;height:15.00px;background:#8dd9bf;"></div><div class="t num" style="left:500.40px;top:535.90px;width:57.70px;height:15.72px;color:#1e5670">388</div><div class="r" style="left:558.00px;top:536.00px;width:58.00px;height:15.00px;background:#78d4ac;"></div><div class="t num" style="left:558.10px;top:535.90px;width:58.50px;height:15.72px;color:#1e5670">370</div><div class="r" style="left:616.00px;top:536.00px;width:58.00px;height:15.00px;background:#6ad09f;"></div><div class="t num" style="left:616.60px;top:535.90px;width:57.80px;height:15.72px;color:#1e5670">357</div><div class="r" style="left:674.00px;top:536.00px;width:59.00px;height:15.00px;background:#25bf61;"></div><div class="t num" style="left:674.40px;top:535.90px;width:57.80px;height:15.72px;color:#1b5a44">297</div><div class="t lab" style="left:347.70px;top:536.00px;width:40.00px;height:15.72px;">5层</div><div class="r" style="left:384.00px;top:551.00px;width:57.00px;height:16.00px;background:#bfe6ed;"></div><div class="t num" style="left:384.40px;top:551.62px;width:57.40px;height:15.72px;color:#2d4666">432</div><div class="r" style="left:441.00px;top:551.00px;width:59.00px;height:16.00px;background:#bde5ea;"></div><div class="t num" style="left:441.80px;top:551.62px;width:58.60px;height:15.72px;color:#2c4767">430</div><div class="r" style="left:500.00px;top:551.00px;width:58.00px;height:16.00px;background:#d0eafc;"></div><div class="t dash" style="left:500.40px;top:551.72px;width:57.70px;height:15.72px;color:#333f62">-</div><div class="r" style="left:558.00px;top:551.00px;width:58.00px;height:16.00px;background:#76d3aa;"></div><div class="t num" style="left:558.10px;top:551.62px;width:58.50px;height:15.72px;color:#1e5670">368</div><div class="r" style="left:616.00px;top:551.00px;width:58.00px;height:16.00px;background:#d0eafc;"></div><div class="t dash" style="left:616.60px;top:551.72px;width:57.80px;height:15.72px;color:#333f62">-</div><div class="r" style="left:674.00px;top:551.00px;width:59.00px;height:16.00px;background:#d0eafc;"></div><div class="t dash" style="left:674.40px;top:551.72px;width:57.80px;height:15.72px;color:#333f62">-</div><div class="t lab" style="left:347.70px;top:551.72px;width:40.00px;height:15.72px;">4层</div><div class="r" style="left:384.00px;top:567.00px;width:57.00px;height:16.00px;background:#bce5e9;"></div><div class="t num" style="left:384.40px;top:567.34px;width:57.40px;height:15.72px;color:#2c4767">429</div><div class="r" style="left:441.00px;top:567.00px;width:59.00px;height:16.00px;background:#b9e4e7;"></div><div class="t num" style="left:441.80px;top:567.34px;width:58.60px;height:15.72px;color:#2b4867">427</div><div class="r" style="left:500.00px;top:567.00px;width:58.00px;height:16.00px;background:#87d8ba;"></div><div class="t num" style="left:500.40px;top:567.34px;width:57.70px;height:15.72px;color:#1e5670">383</div><div class="r" style="left:558.00px;top:567.00px;width:58.00px;height:16.00px;background:#70d2a5;"></div><div class="t num" style="left:558.10px;top:567.34px;width:58.50px;height:15.72px;color:#1e5670">363</div><div class="r" style="left:616.00px;top:567.00px;width:58.00px;height:16.00px;background:#64cf9a;"></div><div class="t num" style="left:616.60px;top:567.34px;width:57.80px;height:15.72px;color:#1e5670">352</div><div class="r" style="left:674.00px;top:567.00px;width:59.00px;height:16.00px;background:#22be5e;"></div><div class="t num" style="left:674.40px;top:567.34px;width:57.80px;height:15.72px;color:#1b5a44">294</div><div class="t lab" style="left:347.70px;top:567.44px;width:40.00px;height:15.72px;">3层</div><div class="r" style="left:384.00px;top:583.00px;width:57.00px;height:15.00px;background:#d0eafc;"></div><div class="t dash" style="left:384.40px;top:583.16px;width:57.40px;height:15.72px;color:#333f62">-</div><div class="r" style="left:441.00px;top:583.00px;width:59.00px;height:15.00px;background:#d0eafc;"></div><div class="t dash" style="left:441.80px;top:583.16px;width:58.60px;height:15.72px;color:#333f62">-</div><div class="r" style="left:500.00px;top:583.00px;width:58.00px;height:15.00px;background:#d0eafc;"></div><div class="t dash" style="left:500.40px;top:583.16px;width:57.70px;height:15.72px;color:#333f62">-</div><div class="r" style="left:558.00px;top:583.00px;width:58.00px;height:15.00px;background:#d0eafc;"></div><div class="t dash" style="left:558.10px;top:583.16px;width:58.50px;height:15.72px;color:#333f62">-</div><div class="r" style="left:616.00px;top:583.00px;width:58.00px;height:15.00px;background:#d0eafc;"></div><div class="t dash" style="left:616.60px;top:583.16px;width:57.80px;height:15.72px;color:#333f62">-</div><div class="r" style="left:674.00px;top:583.00px;width:59.00px;height:15.00px;background:#d0eafc;"></div><div class="t dash" style="left:674.40px;top:583.16px;width:57.80px;height:15.72px;color:#333f62">-</div><div class="t lab" style="left:347.70px;top:583.16px;width:40.00px;height:15.72px;">2层</div><div class="r" style="left:384.00px;top:598.00px;width:57.00px;height:17.00px;background:#d0eafc;"></div><div class="t dash" style="left:384.40px;top:598.88px;width:57.40px;height:15.72px;color:#333f62">-</div><div class="r" style="left:441.00px;top:598.00px;width:59.00px;height:17.00px;background:#d0eafc;"></div><div class="t dash" style="left:441.80px;top:598.88px;width:58.60px;height:15.72px;color:#333f62">-</div><div class="r" style="left:500.00px;top:598.00px;width:58.00px;height:17.00px;background:#d0eafc;"></div><div class="t dash" style="left:500.40px;top:598.88px;width:57.70px;height:15.72px;color:#333f62">-</div><div class="r" style="left:558.00px;top:598.00px;width:58.00px;height:17.00px;background:#d0eafc;"></div><div class="t dash" style="left:558.10px;top:598.88px;width:58.50px;height:15.72px;color:#333f62">-</div><div class="r" style="left:616.00px;top:598.00px;width:58.00px;height:17.00px;background:#d0eafc;"></div><div class="t dash" style="left:616.60px;top:598.88px;width:57.80px;height:15.72px;color:#333f62">-</div><div class="r" style="left:674.00px;top:598.00px;width:59.00px;height:17.00px;background:#d0eafc;"></div><div class="t dash" style="left:674.40px;top:598.88px;width:57.80px;height:15.72px;color:#333f62">-</div><div class="t lab" style="left:347.70px;top:598.88px;width:40.00px;height:15.72px;">1层</div><div class="t lab" style="left:347.70px;top:221.60px;width:40.00px;height:15.72px;">房号</div><div class="t lab" style="left:347.70px;top:237.32px;width:40.00px;height:15.72px;">面积</div><div class="t hd" style="left:384.40px;top:221.60px;width:57.40px;height:15.72px;">01</div><div class="t hd" style="left:384.40px;top:237.32px;width:57.40px;height:15.72px;">98㎡</div><div class="t hd" style="left:441.80px;top:221.60px;width:58.60px;height:15.72px;">02</div><div class="t hd" style="left:441.80px;top:237.32px;width:58.60px;height:15.72px;">98㎡</div><div class="t hd" style="left:500.40px;top:221.60px;width:57.70px;height:15.72px;">03</div><div class="t hd" style="left:500.40px;top:237.32px;width:57.70px;height:15.72px;">88㎡</div><div class="t hd" style="left:558.10px;top:221.60px;width:58.50px;height:15.72px;">04</div><div class="t hd" style="left:558.10px;top:237.32px;width:58.50px;height:15.72px;">86㎡</div><div class="t hd" style="left:616.60px;top:221.60px;width:57.80px;height:15.72px;">05</div><div class="t hd" style="left:616.60px;top:237.32px;width:57.80px;height:15.72px;">86㎡</div><div class="t hd" style="left:674.40px;top:221.60px;width:57.80px;height:15.72px;">06</div><div class="t hd" style="left:674.40px;top:237.32px;width:57.80px;height:15.72px;">72㎡</div><div class="r" style="left:441.00px;top:254.00px;width:1.00px;height:14.00px;background:#859bb4;"></div><div class="r" style="left:500.00px;top:254.00px;width:1.00px;height:14.00px;background:#7ca1ac;"></div><div class="r" style="left:558.00px;top:254.00px;width:1.00px;height:14.00px;background:#7ca1ac;"></div><div class="r" style="left:616.00px;top:254.00px;width:1.00px;height:14.00px;background:#7aa2aa;"></div><div class="r" style="left:674.00px;top:254.00px;width:1.00px;height:14.00px;background:#49ae7f;"></div><div class="r" style="left:384.00px;top:268.00px;width:57.00px;height:1.00px;background:#859bb4;"></div><div class="r" style="left:441.00px;top:268.00px;width:59.00px;height:1.00px;background:#859bb4;"></div><div class="r" style="left:441.00px;top:268.00px;width:1.00px;height:16.00px;background:#859bb4;"></div><div class="r" style="left:500.00px;top:268.00px;width:58.00px;height:1.00px;background:#7ca1ac;"></div><div class="r" style="left:500.00px;top:268.00px;width:1.00px;height:16.00px;background:#7ca1ac;"></div><div class="r" style="left:558.00px;top:268.00px;width:58.00px;height:1.00px;background:#7ba1ab;"></div><div class="r" style="left:558.00px;top:268.00px;width:1.00px;height:16.00px;background:#7ba1ab;"></div><div class="r" style="left:616.00px;top:268.00px;width:58.00px;height:1.00px;background:#79a2aa;"></div><div class="r" style="left:616.00px;top:268.00px;width:1.00px;height:16.00px;background:#79a2aa;"></div><div class="r" style="left:674.00px;top:268.00px;width:59.00px;height:1.00px;background:#48af7e;"></div><div class="r" style="left:674.00px;top:268.00px;width:1.00px;height:16.00px;background:#48af7e;"></div><div class="r" style="left:384.00px;top:284.00px;width:57.00px;height:1.00px;background:#859bb4;"></div><div class="r" style="left:441.00px;top:284.00px;width:59.00px;height:1.00px;background:#859bb4;"></div><div class="r" style="left:441.00px;top:284.00px;width:1.00px;height:16.00px;background:#859bb4;"></div><div class="r" style="left:500.00px;top:284.00px;width:58.00px;height:1.00px;background:#7ba1ab;"></div><div class="r" style="left:500.00px;top:284.00px;width:1.00px;height:16.00px;background:#7ba1ab;"></div><div class="r" style="left:558.00px;top:284.00px;width:58.00px;height:1.00px;background:#7aa2aa;"></div><div class="r" style="left:558.00px;top:284.00px;width:1.00px;height:16.00px;background:#7aa2aa;"></div><div class="r" style="left:616.00px;top:284.00px;width:58.00px;height:1.00px;background:#79a3a9;"></div><div class="r" style="left:616.00px;top:284.00px;width:1.00px;height:16.00px;background:#79a3a9;"></div><div class="r" style="left:674.00px;top:284.00px;width:59.00px;height:1.00px;background:#47af7e;"></div><div class="r" style="left:674.00px;top:284.00px;width:1.00px;height:16.00px;background:#47af7e;"></div><div class="r" style="left:384.00px;top:300.00px;width:57.00px;height:1.00px;background:#859bb4;"></div><div class="r" style="left:441.00px;top:300.00px;width:59.00px;height:1.00px;background:#859bb4;"></div><div class="r" style="left:441.00px;top:300.00px;width:1.00px;height:15.00px;background:#859bb4;"></div><div class="r" style="left:500.00px;top:300.00px;width:58.00px;height:1.00px;background:#7aa2aa;"></div><div class="r" style="left:500.00px;top:300.00px;width:1.00px;height:15.00px;background:#7aa2aa;"></div><div class="r" style="left:558.00px;top:300.00px;width:58.00px;height:1.00px;background:#79a2aa;"></div><div class="r" style="left:558.00px;top:300.00px;width:1.00px;height:15.00px;background:#79a2aa;"></div><div class="r" style="left:616.00px;top:300.00px;width:58.00px;height:1.00px;background:#78a3a9;"></div><div class="r" style="left:616.00px;top:300.00px;width:1.00px;height:15.00px;background:#78a3a9;"></div><div class="r" style="left:674.00px;top:300.00px;width:59.00px;height:1.00px;background:#45af7c;"></div><div class="r" style="left:674.00px;top:300.00px;width:1.00px;height:15.00px;background:#45af7c;"></div><div class="r" style="left:384.00px;top:315.00px;width:57.00px;height:1.00px;background:#859bb4;"></div><div class="r" style="left:441.00px;top:315.00px;width:59.00px;height:1.00px;background:#859bb4;"></div><div class="r" style="left:441.00px;top:315.00px;width:1.00px;height:16.00px;background:#859bb4;"></div><div class="r" style="left:500.00px;top:315.00px;width:58.00px;height:1.00px;background:#79a2aa;"></div><div class="r" style="left:500.00px;top:315.00px;width:1.00px;height:16.00px;background:#79a2aa;"></div><div class="r" style="left:558.00px;top:315.00px;width:58.00px;height:1.00px;background:#79a3a9;"></div><div class="r" style="left:558.00px;top:315.00px;width:1.00px;height:16.00px;background:#79a3a9;"></div><div class="r" style="left:616.00px;top:315.00px;width:58.00px;height:1.00px;background:#78a3a8;"></div><div class="r" style="left:616.00px;top:315.00px;width:1.00px;height:16.00px;background:#78a3a8;"></div><div class="r" style="left:674.00px;top:315.00px;width:59.00px;height:1.00px;background:#44af7b;"></div><div class="r" style="left:674.00px;top:315.00px;width:1.00px;height:16.00px;background:#44af7b;"></div><div class="r" style="left:384.00px;top:331.00px;width:57.00px;height:1.00px;background:#859bb4;"></div><div class="r" style="left:441.00px;top:331.00px;width:59.00px;height:1.00px;background:#859bb4;"></div><div class="r" style="left:441.00px;top:331.00px;width:1.00px;height:16.00px;background:#859bb4;"></div><div class="r" style="left:500.00px;top:331.00px;width:58.00px;height:1.00px;background:#79a3a9;"></div><div class="r" style="left:500.00px;top:331.00px;width:1.00px;height:16.00px;background:#79a3a9;"></div><div class="r" style="left:558.00px;top:331.00px;width:58.00px;height:1.00px;background:#78a3a9;"></div><div class="r" style="left:558.00px;top:331.00px;width:1.00px;height:16.00px;background:#78a3a9;"></div><div class="r" style="left:616.00px;top:331.00px;width:58.00px;height:1.00px;background:#77a3a7;"></div><div class="r" style="left:616.00px;top:331.00px;width:1.00px;height:16.00px;background:#77a3a7;"></div><div class="r" style="left:674.00px;top:331.00px;width:59.00px;height:1.00px;background:#43af7a;"></div><div class="r" style="left:674.00px;top:331.00px;width:1.00px;height:16.00px;background:#43af7a;"></div><div class="r" style="left:384.00px;top:347.00px;width:57.00px;height:1.00px;background:#859bb4;"></div><div class="r" style="left:441.00px;top:347.00px;width:59.00px;height:1.00px;background:#859bb4;"></div><div class="r" style="left:441.00px;top:347.00px;width:1.00px;height:16.00px;background:#859bb4;"></div><div class="r" style="left:500.00px;top:347.00px;width:58.00px;height:1.00px;background:#78a3a9;"></div><div class="r" style="left:500.00px;top:347.00px;width:1.00px;height:16.00px;background:#78a3a9;"></div><div class="r" style="left:558.00px;top:347.00px;width:58.00px;height:1.00px;background:#77a3a8;"></div><div class="r" style="left:558.00px;top:347.00px;width:1.00px;height:16.00px;background:#77a3a8;"></div><div class="r" style="left:616.00px;top:347.00px;width:58.00px;height:1.00px;background:#75a4a7;"></div><div class="r" style="left:616.00px;top:347.00px;width:1.00px;height:16.00px;background:#75a4a7;"></div><div class="r" style="left:674.00px;top:347.00px;width:59.00px;height:1.00px;background:#42af79;"></div><div class="r" style="left:674.00px;top:347.00px;width:1.00px;height:16.00px;background:#42af79;"></div><div class="r" style="left:384.00px;top:363.00px;width:57.00px;height:1.00px;background:#859bb4;"></div><div class="r" style="left:441.00px;top:363.00px;width:59.00px;height:1.00px;background:#859bb4;"></div><div class="r" style="left:441.00px;top:363.00px;width:1.00px;height:15.00px;background:#859bb4;"></div><div class="r" style="left:500.00px;top:363.00px;width:58.00px;height:1.00px;background:#77a3a8;"></div><div class="r" style="left:500.00px;top:363.00px;width:1.00px;height:15.00px;background:#77a3a8;"></div><div class="r" style="left:558.00px;top:363.00px;width:58.00px;height:1.00px;background:#76a4a7;"></div><div class="r" style="left:558.00px;top:363.00px;width:1.00px;height:15.00px;background:#76a4a7;"></div><div class="r" style="left:616.00px;top:363.00px;width:58.00px;height:1.00px;background:#75a4a6;"></div><div class="r" style="left:616.00px;top:363.00px;width:1.00px;height:15.00px;background:#75a4a6;"></div><div class="r" style="left:674.00px;top:363.00px;width:59.00px;height:1.00px;background:#40af78;"></div><div class="r" style="left:674.00px;top:363.00px;width:1.00px;height:15.00px;background:#40af78;"></div><div class="r" style="left:384.00px;top:378.00px;width:57.00px;height:1.00px;background:#859bb4;"></div><div class="r" style="left:441.00px;top:378.00px;width:59.00px;height:1.00px;background:#859bb4;"></div><div class="r" style="left:441.00px;top:378.00px;width:1.00px;height:16.00px;background:#859bb4;"></div><div class="r" style="left:500.00px;top:378.00px;width:58.00px;height:1.00px;background:#76a4a7;"></div><div class="r" style="left:500.00px;top:378.00px;width:1.00px;height:16.00px;background:#76a4a7;"></div><div class="r" style="left:558.00px;top:378.00px;width:58.00px;height:1.00px;background:#75a4a6;"></div><div class="r" style="left:558.00px;top:378.00px;width:1.00px;height:16.00px;background:#75a4a6;"></div><div class="r" style="left:616.00px;top:378.00px;width:58.00px;height:1.00px;background:#74a5a4;"></div><div class="r" style="left:616.00px;top:378.00px;width:1.00px;height:16.00px;background:#74a5a4;"></div><div class="r" style="left:674.00px;top:378.00px;width:59.00px;height:1.00px;background:#3fb077;"></div><div class="r" style="left:674.00px;top:378.00px;width:1.00px;height:16.00px;background:#3fb077;"></div><div class="r" style="left:384.00px;top:394.00px;width:57.00px;height:1.00px;background:#859bb4;"></div><div class="r" style="left:441.00px;top:394.00px;width:59.00px;height:1.00px;background:#859bb4;"></div><div class="r" style="left:441.00px;top:394.00px;width:1.00px;height:16.00px;background:#859bb4;"></div><div class="r" style="left:500.00px;top:394.00px;width:58.00px;height:1.00px;background:#75a4a7;"></div><div class="r" style="left:500.00px;top:394.00px;width:1.00px;height:16.00px;background:#75a4a7;"></div><div class="r" style="left:558.00px;top:394.00px;width:58.00px;height:1.00px;background:#75a4a6;"></div><div class="r" style="left:558.00px;top:394.00px;width:1.00px;height:16.00px;background:#75a4a6;"></div><div class="r" style="left:616.00px;top:394.00px;width:58.00px;height:1.00px;background:#72a5a4;"></div><div class="r" style="left:616.00px;top:394.00px;width:1.00px;height:16.00px;background:#72a5a4;"></div><div class="r" style="left:674.00px;top:394.00px;width:59.00px;height:1.00px;background:#3bb073;"></div><div class="r" style="left:674.00px;top:394.00px;width:1.00px;height:16.00px;background:#3bb073;"></div><div class="r" style="left:384.00px;top:410.00px;width:57.00px;height:1.00px;background:#859bb4;"></div><div class="r" style="left:441.00px;top:410.00px;width:59.00px;height:1.00px;background:#859bb4;"></div><div class="r" style="left:441.00px;top:410.00px;width:1.00px;height:15.00px;background:#859bb4;"></div><div class="r" style="left:500.00px;top:410.00px;width:58.00px;height:1.00px;background:#859bb4;"></div><div class="r" style="left:500.00px;top:410.00px;width:1.00px;height:15.00px;background:#859bb4;"></div><div class="r" style="left:558.00px;top:410.00px;width:58.00px;height:1.00px;background:#859bb4;"></div><div class="r" style="left:558.00px;top:410.00px;width:1.00px;height:15.00px;background:#859bb4;"></div><div class="r" style="left:616.00px;top:410.00px;width:58.00px;height:1.00px;background:#859bb4;"></div><div class="r" style="left:616.00px;top:410.00px;width:1.00px;height:15.00px;background:#859bb4;"></div><div class="r" style="left:674.00px;top:410.00px;width:59.00px;height:1.00px;background:#859bb4;"></div><div class="r" style="left:674.00px;top:410.00px;width:1.00px;height:15.00px;background:#859bb4;"></div><div class="r" style="left:384.00px;top:425.00px;width:57.00px;height:1.00px;background:#859bb4;"></div><div class="r" style="left:441.00px;top:425.00px;width:59.00px;height:1.00px;background:#859bb4;"></div><div class="r" style="left:441.00px;top:425.00px;width:1.00px;height:16.00px;background:#859bb4;"></div><div class="r" style="left:500.00px;top:425.00px;width:58.00px;height:1.00px;background:#859bb4;"></div><div class="r" style="left:500.00px;top:425.00px;width:1.00px;height:16.00px;background:#859bb4;"></div><div class="r" style="left:558.00px;top:425.00px;width:58.00px;height:1.00px;background:#859bb4;"></div><div class="r" style="left:558.00px;top:425.00px;width:1.00px;height:16.00px;background:#859bb4;"></div><div class="r" style="left:616.00px;top:425.00px;width:58.00px;height:1.00px;background:#859bb4;"></div><div class="r" style="left:616.00px;top:425.00px;width:1.00px;height:16.00px;background:#859bb4;"></div><div class="r" style="left:674.00px;top:425.00px;width:59.00px;height:1.00px;background:#859bb4;"></div><div class="r" style="left:674.00px;top:425.00px;width:1.00px;height:16.00px;background:#859bb4;"></div><div class="r" style="left:384.00px;top:441.00px;width:57.00px;height:1.00px;background:#859bb4;"></div><div class="r" style="left:441.00px;top:441.00px;width:59.00px;height:1.00px;background:#859bb4;"></div><div class="r" style="left:441.00px;top:441.00px;width:1.00px;height:16.00px;background:#859bb4;"></div><div class="r" style="left:500.00px;top:441.00px;width:58.00px;height:1.00px;background:#859bb4;"></div><div class="r" style="left:500.00px;top:441.00px;width:1.00px;height:16.00px;background:#859bb4;"></div><div class="r" style="left:558.00px;top:441.00px;width:58.00px;height:1.00px;background:#859bb4;"></div><div class="r" style="left:558.00px;top:441.00px;width:1.00px;height:16.00px;background:#859bb4;"></div><div class="r" style="left:616.00px;top:441.00px;width:58.00px;height:1.00px;background:#67a99a;"></div><div class="r" style="left:616.00px;top:441.00px;width:1.00px;height:16.00px;background:#67a99a;"></div><div class="r" style="left:674.00px;top:441.00px;width:59.00px;height:1.00px;background:#859bb4;"></div><div class="r" style="left:674.00px;top:441.00px;width:1.00px;height:16.00px;background:#859bb4;"></div><div class="r" style="left:384.00px;top:457.00px;width:57.00px;height:1.00px;background:#859bb4;"></div><div class="r" style="left:441.00px;top:457.00px;width:59.00px;height:1.00px;background:#859bb4;"></div><div class="r" style="left:441.00px;top:457.00px;width:1.00px;height:16.00px;background:#859bb4;"></div><div class="r" style="left:500.00px;top:457.00px;width:58.00px;height:1.00px;background:#859bb4;"></div><div class="r" style="left:500.00px;top:457.00px;width:1.00px;height:16.00px;background:#859bb4;"></div><div class="r" style="left:558.00px;top:457.00px;width:58.00px;height:1.00px;background:#859bb4;"></div><div class="r" style="left:558.00px;top:457.00px;width:1.00px;height:16.00px;background:#859bb4;"></div><div class="r" style="left:616.00px;top:457.00px;width:58.00px;height:1.00px;background:#65a999;"></div><div class="r" style="left:616.00px;top:457.00px;width:1.00px;height:16.00px;background:#65a999;"></div><div class="r" style="left:674.00px;top:457.00px;width:59.00px;height:1.00px;background:#2fb168;"></div><div class="r" style="left:674.00px;top:457.00px;width:1.00px;height:16.00px;background:#2fb168;"></div><div class="r" style="left:384.00px;top:473.00px;width:57.00px;height:1.00px;background:#859bb4;"></div><div class="r" style="left:441.00px;top:473.00px;width:59.00px;height:1.00px;background:#859bb4;"></div><div class="r" style="left:441.00px;top:473.00px;width:1.00px;height:15.00px;background:#859bb4;"></div><div class="r" style="left:500.00px;top:473.00px;width:58.00px;height:1.00px;background:#859bb4;"></div><div class="r" style="left:500.00px;top:473.00px;width:1.00px;height:15.00px;background:#859bb4;"></div><div class="r" style="left:558.00px;top:473.00px;width:58.00px;height:1.00px;background:#6da79f;"></div><div class="r" style="left:558.00px;top:473.00px;width:1.00px;height:15.00px;background:#6da79f;"></div><div class="r" style="left:616.00px;top:473.00px;width:58.00px;height:1.00px;background:#65a998;"></div><div class="r" style="left:616.00px;top:473.00px;width:1.00px;height:15.00px;background:#65a998;"></div><div class="r" style="left:674.00px;top:473.00px;width:59.00px;height:1.00px;background:#2db166;"></div><div class="r" style="left:674.00px;top:473.00px;width:1.00px;height:15.00px;background:#2db166;"></div><div class="r" style="left:384.00px;top:488.00px;width:57.00px;height:1.00px;background:#859bb3;"></div><div class="r" style="left:441.00px;top:488.00px;width:59.00px;height:1.00px;background:#849cb3;"></div><div class="r" style="left:441.00px;top:488.00px;width:1.00px;height:16.00px;background:#849cb3;"></div><div class="r" style="left:500.00px;top:488.00px;width:58.00px;height:1.00px;background:#70a6a1;"></div><div class="r" style="left:500.00px;top:488.00px;width:1.00px;height:16.00px;background:#70a6a1;"></div><div class="r" style="left:558.00px;top:488.00px;width:58.00px;height:1.00px;background:#65a999;"></div><div class="r" style="left:558.00px;top:488.00px;width:1.00px;height:16.00px;background:#65a999;"></div><div class="r" style="left:616.00px;top:488.00px;width:58.00px;height:1.00px;background:#5fab93;"></div><div class="r" style="left:616.00px;top:488.00px;width:1.00px;height:16.00px;background:#5fab93;"></div><div class="r" style="left:674.00px;top:488.00px;width:59.00px;height:1.00px;background:#2ab164;"></div><div class="r" style="left:674.00px;top:488.00px;width:1.00px;height:16.00px;background:#2ab164;"></div><div class="r" style="left:384.00px;top:504.00px;width:57.00px;height:1.00px;background:#839cb2;"></div><div class="r" style="left:441.00px;top:504.00px;width:59.00px;height:1.00px;background:#839db2;"></div><div class="r" style="left:441.00px;top:504.00px;width:1.00px;height:16.00px;background:#839db2;"></div><div class="r" style="left:500.00px;top:504.00px;width:58.00px;height:1.00px;background:#6fa6a1;"></div><div class="r" style="left:500.00px;top:504.00px;width:1.00px;height:16.00px;background:#6fa6a1;"></div><div class="r" style="left:558.00px;top:504.00px;width:58.00px;height:1.00px;background:#65a998;"></div><div class="r" style="left:558.00px;top:504.00px;width:1.00px;height:16.00px;background:#65a998;"></div><div class="r" style="left:616.00px;top:504.00px;width:58.00px;height:1.00px;background:#5cac90;"></div><div class="r" style="left:616.00px;top:504.00px;width:1.00px;height:16.00px;background:#5cac90;"></div><div class="r" style="left:674.00px;top:504.00px;width:59.00px;height:1.00px;background:#28b262;"></div><div class="r" style="left:674.00px;top:504.00px;width:1.00px;height:16.00px;background:#28b262;"></div><div class="r" style="left:384.00px;top:520.00px;width:57.00px;height:1.00px;background:#839db2;"></div><div class="r" style="left:441.00px;top:520.00px;width:59.00px;height:1.00px;background:#829db1;"></div><div class="r" style="left:441.00px;top:520.00px;width:1.00px;height:16.00px;background:#829db1;"></div><div class="r" style="left:500.00px;top:520.00px;width:58.00px;height:1.00px;background:#6ea7a0;"></div><div class="r" style="left:500.00px;top:520.00px;width:1.00px;height:16.00px;background:#6ea7a0;"></div><div class="r" style="left:558.00px;top:520.00px;width:58.00px;height:1.00px;background:#64aa97;"></div><div class="r" style="left:558.00px;top:520.00px;width:1.00px;height:16.00px;background:#64aa97;"></div><div class="r" style="left:616.00px;top:520.00px;width:58.00px;height:1.00px;background:#5bab8f;"></div><div class="r" style="left:616.00px;top:520.00px;width:1.00px;height:16.00px;background:#5bab8f;"></div><div class="r" style="left:674.00px;top:520.00px;width:59.00px;height:1.00px;background:#27b161;"></div><div class="r" style="left:674.00px;top:520.00px;width:1.00px;height:16.00px;background:#27b161;"></div><div class="r" style="left:384.00px;top:536.00px;width:57.00px;height:1.00px;background:#819eb1;"></div><div class="r" style="left:441.00px;top:536.00px;width:59.00px;height:1.00px;background:#819eb0;"></div><div class="r" style="left:441.00px;top:536.00px;width:1.00px;height:15.00px;background:#819eb0;"></div><div class="r" style="left:500.00px;top:536.00px;width:58.00px;height:1.00px;background:#6da79f;"></div><div class="r" style="left:500.00px;top:536.00px;width:1.00px;height:15.00px;background:#6da79f;"></div><div class="r" style="left:558.00px;top:536.00px;width:58.00px;height:1.00px;background:#61aa95;"></div><div class="r" style="left:558.00px;top:536.00px;width:1.00px;height:15.00px;background:#61aa95;"></div><div class="r" style="left:616.00px;top:536.00px;width:58.00px;height:1.00px;background:#59ac8d;"></div><div class="r" style="left:616.00px;top:536.00px;width:1.00px;height:15.00px;background:#59ac8d;"></div><div class="r" style="left:674.00px;top:536.00px;width:59.00px;height:1.00px;background:#24b25f;"></div><div class="r" style="left:674.00px;top:536.00px;width:1.00px;height:15.00px;background:#24b25f;"></div><div class="r" style="left:384.00px;top:551.00px;width:57.00px;height:1.00px;background:#819eb0;"></div><div class="r" style="left:441.00px;top:551.00px;width:59.00px;height:1.00px;background:#809faf;"></div><div class="r" style="left:441.00px;top:551.00px;width:1.00px;height:16.00px;background:#809faf;"></div><div class="r" style="left:500.00px;top:551.00px;width:58.00px;height:1.00px;background:#859bb4;"></div><div class="r" style="left:500.00px;top:551.00px;width:1.00px;height:16.00px;background:#859bb4;"></div><div class="r" style="left:558.00px;top:551.00px;width:58.00px;height:1.00px;background:#60aa94;"></div><div class="r" style="left:558.00px;top:551.00px;width:1.00px;height:16.00px;background:#60aa94;"></div><div class="r" style="left:616.00px;top:551.00px;width:58.00px;height:1.00px;background:#859bb4;"></div><div class="r" style="left:616.00px;top:551.00px;width:1.00px;height:16.00px;background:#859bb4;"></div><div class="r" style="left:674.00px;top:551.00px;width:59.00px;height:1.00px;background:#859bb4;"></div><div class="r" style="left:674.00px;top:551.00px;width:1.00px;height:16.00px;background:#859bb4;"></div><div class="r" style="left:384.00px;top:567.00px;width:57.00px;height:1.00px;background:#809faf;"></div><div class="r" style="left:441.00px;top:567.00px;width:59.00px;height:1.00px;background:#7f9fae;"></div><div class="r" style="left:441.00px;top:567.00px;width:1.00px;height:16.00px;background:#7f9fae;"></div><div class="r" style="left:500.00px;top:567.00px;width:58.00px;height:1.00px;background:#6aa89c;"></div><div class="r" style="left:500.00px;top:567.00px;width:1.00px;height:16.00px;background:#6aa89c;"></div><div class="r" style="left:558.00px;top:567.00px;width:58.00px;height:1.00px;background:#5dab91;"></div><div class="r" style="left:558.00px;top:567.00px;width:1.00px;height:16.00px;background:#5dab91;"></div><div class="r" style="left:616.00px;top:567.00px;width:58.00px;height:1.00px;background:#55ad8a;"></div><div class="r" style="left:616.00px;top:567.00px;width:1.00px;height:16.00px;background:#55ad8a;"></div><div class="r" style="left:674.00px;top:567.00px;width:59.00px;height:1.00px;background:#22b25d;"></div><div class="r" style="left:674.00px;top:567.00px;width:1.00px;height:16.00px;background:#22b25d;"></div><div class="r" style="left:384.00px;top:583.00px;width:57.00px;height:1.00px;background:#859bb4;"></div><div class="r" style="left:441.00px;top:583.00px;width:59.00px;height:1.00px;background:#859bb4;"></div><div class="r" style="left:441.00px;top:583.00px;width:1.00px;height:15.00px;background:#859bb4;"></div><div class="r" style="left:500.00px;top:583.00px;width:58.00px;height:1.00px;background:#859bb4;"></div><div class="r" style="left:500.00px;top:583.00px;width:1.00px;height:15.00px;background:#859bb4;"></div><div class="r" style="left:558.00px;top:583.00px;width:58.00px;height:1.00px;background:#859bb4;"></div><div class="r" style="left:558.00px;top:583.00px;width:1.00px;height:15.00px;background:#859bb4;"></div><div class="r" style="left:616.00px;top:583.00px;width:58.00px;height:1.00px;background:#859bb4;"></div><div class="r" style="left:616.00px;top:583.00px;width:1.00px;height:15.00px;background:#859bb4;"></div><div class="r" style="left:674.00px;top:583.00px;width:59.00px;height:1.00px;background:#859bb4;"></div><div class="r" style="left:674.00px;top:583.00px;width:1.00px;height:15.00px;background:#859bb4;"></div><div class="r" style="left:384.00px;top:598.00px;width:57.00px;height:1.00px;background:#859bb4;"></div><div class="r" style="left:441.00px;top:598.00px;width:59.00px;height:1.00px;background:#859bb4;"></div><div class="r" style="left:441.00px;top:598.00px;width:1.00px;height:16.00px;background:#859bb4;"></div><div class="r" style="left:500.00px;top:598.00px;width:58.00px;height:1.00px;background:#859bb4;"></div><div class="r" style="left:500.00px;top:598.00px;width:1.00px;height:16.00px;background:#859bb4;"></div><div class="r" style="left:558.00px;top:598.00px;width:58.00px;height:1.00px;background:#859bb4;"></div><div class="r" style="left:558.00px;top:598.00px;width:1.00px;height:16.00px;background:#859bb4;"></div><div class="r" style="left:616.00px;top:598.00px;width:58.00px;height:1.00px;background:#859bb4;"></div><div class="r" style="left:616.00px;top:598.00px;width:1.00px;height:16.00px;background:#859bb4;"></div><div class="r" style="left:674.00px;top:598.00px;width:59.00px;height:1.00px;background:#859bb4;"></div><div class="r" style="left:674.00px;top:598.00px;width:1.00px;height:16.00px;background:#859bb4;"></div><div class="r" style="left:384.00px;top:221.00px;width:349.00px;height:1.00px;background:#98b3ef;"></div><div class="r" style="left:384.00px;top:237.00px;width:349.00px;height:1.00px;background:#98b3ef;"></div><div class="r" style="left:384.00px;top:253.00px;width:349.00px;height:1.00px;background:#4460a8;"></div><div class="r" style="left:384.00px;top:221.00px;width:1.00px;height:33.00px;background:#98b3ef;"></div><div class="r" style="left:441.00px;top:221.00px;width:1.00px;height:33.00px;background:#98b3ef;"></div><div class="r" style="left:500.00px;top:221.00px;width:1.00px;height:33.00px;background:#98b3ef;"></div><div class="r" style="left:558.00px;top:221.00px;width:1.00px;height:33.00px;background:#98b3ef;"></div><div class="r" style="left:616.00px;top:221.00px;width:1.00px;height:33.00px;background:#98b3ef;"></div><div class="r" style="left:674.00px;top:221.00px;width:1.00px;height:33.00px;background:#98b3ef;"></div><div class="r" style="left:732.00px;top:221.00px;width:1.00px;height:33.00px;background:#98b3ef;"></div><div class="t lab avg" style="left:347.70px;top:626.10px;width:40.00px;height:14.00px;">均价</div><div class="t av1" style="left:384.40px;top:619.60px;width:57.40px;height:13.00px;">453万</div><div class="t av2" style="left:384.40px;top:631.60px;width:57.40px;height:11.00px;">46013元/㎡</div><div class="t av1" style="left:441.80px;top:619.60px;width:58.60px;height:13.00px;">451万</div><div class="t av2" style="left:441.80px;top:631.60px;width:58.60px;height:11.00px;">45825元/㎡</div><div class="t av1" style="left:500.40px;top:619.60px;width:57.70px;height:13.00px;">405万</div><div class="t av2" style="left:500.40px;top:631.60px;width:57.70px;height:11.00px;">46044元/㎡</div><div class="t av1" style="left:558.10px;top:619.60px;width:58.50px;height:13.00px;">395万</div><div class="t av2" style="left:558.10px;top:631.60px;width:58.50px;height:11.00px;">45985元/㎡</div><div class="t av1" style="left:616.60px;top:619.60px;width:57.80px;height:13.00px;">389万</div><div class="t av2" style="left:616.60px;top:631.60px;width:57.80px;height:11.00px;">45227元/㎡</div><div class="t av1" style="left:674.40px;top:619.60px;width:57.80px;height:13.00px;">318万</div><div class="t av2" style="left:674.40px;top:631.60px;width:57.80px;height:11.00px;">43875元/㎡</div>
<div class="wm" style="left:561.5px;top:633.5px">搜狐号@搜狐焦点贺州站</div>
</div>
</body></html>
